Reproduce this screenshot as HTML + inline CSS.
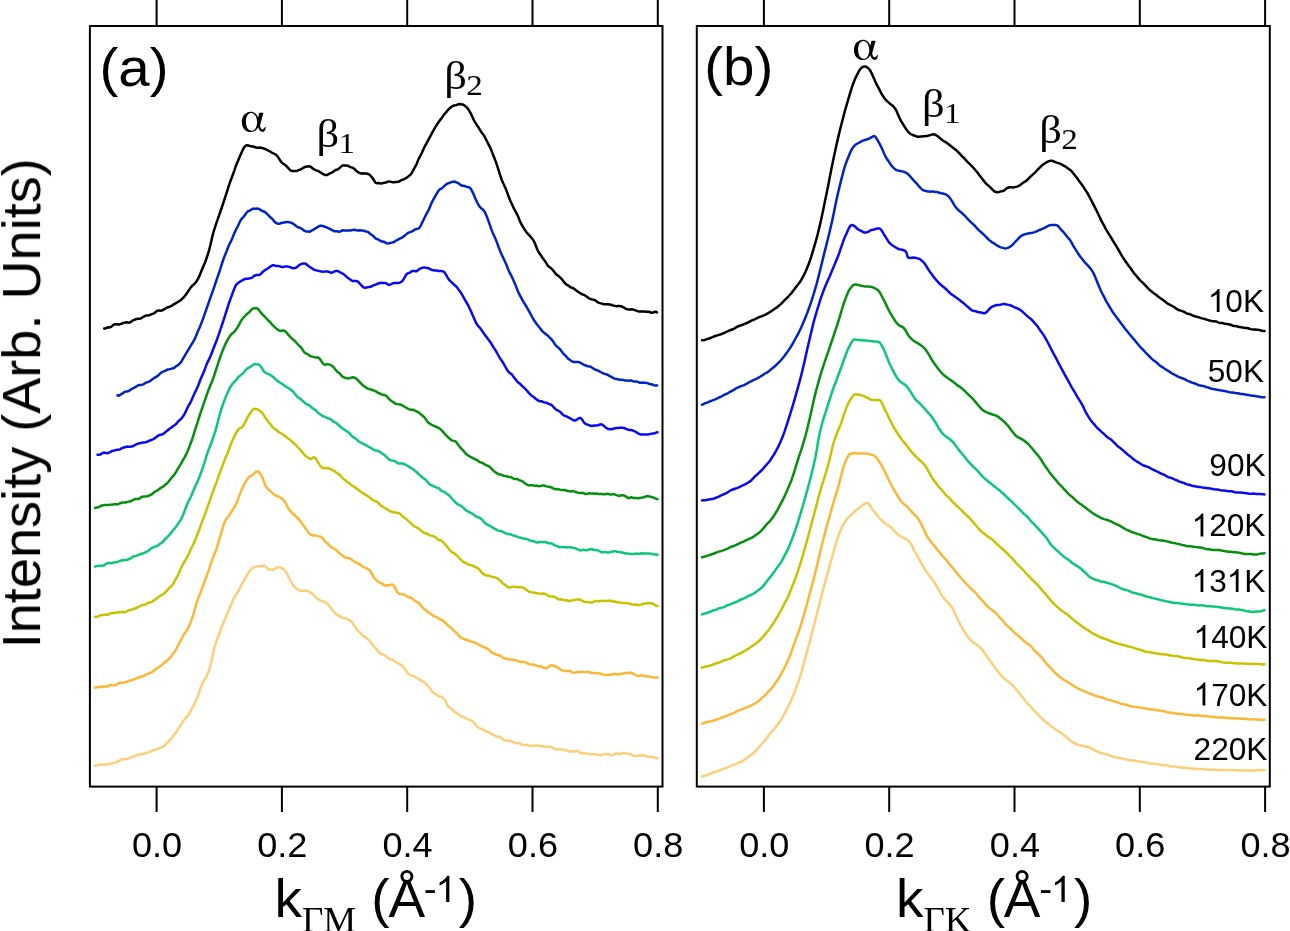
<!DOCTYPE html>
<html><head><meta charset="utf-8"><title>chart</title>
<style>
html,body{margin:0;padding:0;background:#fff;}
body{width:1290px;height:931px;overflow:hidden;}
svg{display:block;}
text{font-family:"Liberation Sans",sans-serif;fill:#000;}
.serif{font-family:"Liberation Serif",serif;}
.txt{opacity:0.999;}
</style></head><body>
<svg width="1290" height="931" viewBox="0 0 1290 931">
<rect x="0" y="0" width="1290" height="931" fill="#ffffff"/>
<g>
<polyline points="95.0,765.7 96.4,765.6 97.8,765.2 99.2,764.8 100.6,764.6 102.0,764.6 103.4,764.9 104.8,765.0 106.2,764.4 107.6,764.0 109.0,764.0 110.4,763.9 111.8,763.4 113.2,762.9 114.6,762.7 116.0,762.4 117.4,761.6 118.8,760.8 120.2,760.1 121.6,759.5 123.0,759.3 124.4,759.2 125.8,759.0 127.2,759.0 128.6,758.6 130.0,757.6 131.4,756.7 132.8,756.5 134.2,756.5 135.6,755.9 137.0,755.1 138.4,754.6 139.8,754.2 141.2,754.1 142.6,754.0 144.0,753.5 145.4,753.2 146.8,752.8 148.2,752.2 149.6,751.7 151.0,751.2 152.4,750.6 153.8,750.0 155.2,749.9 156.6,749.5 158.0,748.7 159.4,748.2 160.8,747.6 162.2,747.0 163.6,746.5 165.0,745.1 166.4,743.4 167.8,742.2 169.2,741.0 170.6,739.4 172.0,737.6 173.4,735.8 174.8,734.1 176.2,732.2 177.6,729.8 179.0,727.6 180.4,725.5 181.8,723.3 183.2,721.1 184.6,719.1 186.0,717.6 187.4,716.2 188.8,714.1 190.2,711.5 191.6,709.2 193.0,706.9 194.4,704.0 195.8,700.8 197.2,697.6 198.6,693.9 200.0,689.8 201.4,685.8 202.8,682.6 204.2,680.3 205.6,678.1 207.0,675.3 208.4,672.0 209.8,668.1 211.2,662.6 212.6,655.9 214.0,649.5 215.4,644.4 216.8,640.3 218.2,636.5 219.6,632.7 221.0,628.8 222.4,625.2 223.8,621.7 225.2,618.5 226.6,615.3 228.0,611.9 229.4,608.6 230.8,605.5 232.2,602.2 233.6,599.1 235.0,596.7 236.4,594.3 237.8,592.1 239.2,589.7 240.6,586.5 242.0,583.7 243.4,581.6 244.8,579.2 246.2,576.5 247.6,574.1 249.0,572.0 250.4,570.0 251.8,568.3 253.2,567.6 254.6,567.1 256.0,566.6 257.4,566.4 258.8,566.2 260.2,566.3 261.6,566.2 263.0,565.8 264.4,565.6 265.8,566.7 267.2,568.3 268.6,569.3 270.0,569.5 271.4,569.5 272.8,569.7 274.2,569.3 275.6,568.4 277.0,567.6 278.4,567.5 279.8,567.5 281.2,567.7 282.6,568.6 284.0,569.5 285.4,571.0 286.8,573.5 288.2,576.3 289.6,578.8 291.0,581.5 292.4,584.0 293.8,586.1 295.2,587.7 296.6,588.8 298.0,589.5 299.4,590.3 300.8,590.7 302.2,590.9 303.6,590.7 305.0,590.6 306.4,590.7 307.8,591.1 309.2,591.8 310.6,592.6 312.0,593.5 313.4,594.6 314.8,596.3 316.2,598.0 317.6,598.7 319.0,599.4 320.4,600.5 321.8,601.3 323.2,601.5 324.6,602.0 326.0,602.7 327.4,603.7 328.8,605.4 330.2,607.3 331.6,609.0 333.0,610.8 334.4,612.7 335.8,614.1 337.2,615.0 338.6,615.5 340.0,616.4 341.4,617.4 342.8,617.9 344.2,618.2 345.6,618.5 347.0,618.9 348.4,619.6 349.8,620.5 351.2,621.5 352.6,623.0 354.0,625.2 355.4,627.5 356.8,629.6 358.2,631.1 359.6,632.3 361.0,633.6 362.4,635.2 363.8,636.3 365.2,637.0 366.6,638.0 368.0,639.3 369.4,640.7 370.8,642.4 372.2,644.2 373.6,646.0 375.0,647.5 376.4,649.1 377.8,650.7 379.2,652.4 380.6,653.8 382.0,654.4 383.4,654.5 384.8,655.3 386.2,656.6 387.6,657.6 389.0,658.6 390.4,659.3 391.8,659.4 393.2,659.9 394.6,661.2 396.0,662.2 397.4,663.0 398.8,663.7 400.2,664.3 401.6,665.4 403.0,667.0 404.4,668.5 405.8,670.3 407.2,672.3 408.6,674.0 410.0,675.0 411.4,675.4 412.8,675.9 414.2,676.5 415.6,677.2 417.0,678.0 418.4,678.7 419.8,679.6 421.2,680.7 422.6,681.5 424.0,682.0 425.4,683.3 426.8,684.9 428.2,686.3 429.6,687.9 431.0,689.8 432.4,691.7 433.8,692.9 435.2,693.8 436.6,694.9 438.0,695.9 439.4,696.3 440.8,696.6 442.2,697.5 443.6,698.5 445.0,700.3 446.4,703.1 447.8,705.8 449.2,707.2 450.6,708.0 452.0,709.3 453.4,710.9 454.8,712.1 456.2,712.8 457.6,713.7 459.0,714.8 460.4,715.8 461.8,716.6 463.2,717.0 464.6,717.5 466.0,718.2 467.4,719.0 468.8,719.6 470.2,720.0 471.6,720.7 473.0,721.7 474.4,723.1 475.8,725.1 477.2,726.6 478.6,727.6 480.0,728.5 481.4,729.0 482.8,729.2 484.2,730.3 485.6,731.3 487.0,731.8 488.4,732.2 489.8,732.8 491.2,733.8 492.6,734.7 494.0,735.3 495.4,735.9 496.8,736.5 498.2,736.7 499.6,736.9 501.0,737.6 502.4,739.0 503.8,740.0 505.2,740.4 506.6,740.6 508.0,740.7 509.4,740.9 510.8,741.1 512.2,741.5 513.6,742.2 515.0,742.9 516.4,743.1 517.8,743.1 519.2,743.2 520.6,743.9 522.0,744.8 523.4,745.1 524.8,745.0 526.2,744.9 527.6,745.0 529.0,745.5 530.4,745.9 531.8,745.8 533.2,745.7 534.6,745.8 536.0,745.6 537.4,745.4 538.8,745.5 540.2,745.9 541.6,746.2 543.0,746.3 544.4,746.7 545.8,746.9 547.2,746.6 548.6,746.5 550.0,746.9 551.4,747.2 552.8,747.7 554.2,748.7 555.6,749.4 557.0,749.4 558.4,749.2 559.8,749.3 561.2,749.4 562.6,749.4 564.0,749.7 565.4,750.3 566.8,750.5 568.2,751.0 569.6,751.4 571.0,751.3 572.4,751.5 573.8,751.7 575.2,751.3 576.6,750.9 578.0,751.2 579.4,752.2 580.8,753.2 582.2,753.4 583.6,753.1 585.0,753.2 586.4,753.6 587.8,754.0 589.2,754.1 590.6,754.3 592.0,754.3 593.4,754.2 594.8,754.3 596.2,754.4 597.6,754.6 599.0,755.0 600.4,755.3 601.8,755.1 603.2,754.4 604.6,754.1 606.0,754.1 607.4,754.0 608.8,754.3 610.2,755.2 611.6,755.4 613.0,754.9 614.4,754.0 615.8,753.6 617.2,753.5 618.6,753.9 620.0,754.1 621.4,753.6 622.8,753.0 624.2,752.9 625.6,753.3 627.0,753.6 628.4,753.7 629.8,754.0 631.2,754.6 632.6,755.4 634.0,755.9 635.4,755.9 636.8,755.7 638.2,755.7 639.6,755.6 641.0,755.5 642.4,755.4 643.8,755.3 645.2,755.6 646.6,756.3 648.0,756.8 649.4,757.1 650.8,757.1 652.2,756.8 653.6,757.1 655.0,757.8 656.4,758.3 657.5,758.5" fill="none" stroke="#fccf7a" stroke-width="2.5" stroke-linejoin="round" stroke-linecap="round"/>
<polyline points="95.0,687.8 96.4,687.6 97.8,686.9 99.2,686.8 100.6,687.0 102.0,686.7 103.4,686.3 104.8,686.6 106.2,686.7 107.6,686.3 109.0,685.6 110.4,685.1 111.8,685.1 113.2,685.4 114.6,685.2 116.0,684.7 117.4,684.0 118.8,683.3 120.2,682.7 121.6,682.7 123.0,682.7 124.4,682.4 125.8,682.2 127.2,681.7 128.6,680.9 130.0,680.5 131.4,680.2 132.8,679.8 134.2,679.2 135.6,678.7 137.0,678.1 138.4,677.5 139.8,677.0 141.2,676.9 142.6,676.4 144.0,675.6 145.4,674.9 146.8,674.2 148.2,673.6 149.6,673.2 151.0,672.6 152.4,671.8 153.8,670.7 155.2,669.6 156.6,668.6 158.0,667.6 159.4,666.7 160.8,665.8 162.2,664.8 163.6,663.4 165.0,662.0 166.4,661.0 167.8,660.0 169.2,658.7 170.6,656.9 172.0,655.1 173.4,653.3 174.8,651.6 176.2,649.0 177.6,646.2 179.0,643.8 180.4,641.2 181.8,638.1 183.2,635.5 184.6,633.4 186.0,631.4 187.4,629.3 188.8,626.6 190.2,623.4 191.6,619.6 193.0,615.3 194.4,610.6 195.8,605.6 197.2,600.9 198.6,597.2 200.0,593.9 201.4,590.2 202.8,586.2 204.2,582.5 205.6,578.8 207.0,575.2 208.4,571.3 209.8,566.8 211.2,562.4 212.6,558.6 214.0,555.1 215.4,551.8 216.8,547.8 218.2,543.2 219.6,538.3 221.0,533.6 222.4,528.8 223.8,524.1 225.2,520.8 226.6,518.7 228.0,516.9 229.4,515.0 230.8,512.9 232.2,510.5 233.6,508.3 235.0,506.2 236.4,503.3 237.8,499.7 239.2,495.9 240.6,492.2 242.0,488.9 243.4,485.9 244.8,483.1 246.2,480.7 247.6,478.6 249.0,477.1 250.4,476.1 251.8,475.5 253.2,474.5 254.6,473.0 256.0,471.8 257.4,471.4 258.8,471.9 260.2,473.7 261.6,476.0 263.0,479.0 264.4,482.9 265.8,486.3 267.2,488.4 268.6,489.8 270.0,490.9 271.4,492.1 272.8,493.4 274.2,494.5 275.6,495.5 277.0,496.0 278.4,496.5 279.8,497.2 281.2,498.1 282.6,499.2 284.0,500.7 285.4,502.7 286.8,505.4 288.2,508.1 289.6,510.2 291.0,511.7 292.4,513.1 293.8,514.4 295.2,515.8 296.6,517.2 298.0,518.5 299.4,519.9 300.8,521.7 302.2,523.7 303.6,525.7 305.0,527.8 306.4,529.8 307.8,531.6 309.2,533.4 310.6,534.7 312.0,535.3 313.4,535.4 314.8,535.3 316.2,535.6 317.6,536.1 319.0,536.4 320.4,536.6 321.8,537.4 323.2,539.0 324.6,540.9 326.0,542.4 327.4,543.5 328.8,544.7 330.2,546.3 331.6,547.4 333.0,548.1 334.4,549.1 335.8,550.0 337.2,551.0 338.6,552.4 340.0,553.7 341.4,554.6 342.8,555.7 344.2,556.9 345.6,557.7 347.0,557.8 348.4,558.0 349.8,558.4 351.2,559.3 352.6,560.4 354.0,561.4 355.4,562.1 356.8,562.8 358.2,563.4 359.6,564.2 361.0,565.3 362.4,566.3 363.8,567.1 365.2,567.7 366.6,568.4 368.0,569.2 369.4,570.1 370.8,571.9 372.2,574.5 373.6,576.9 375.0,578.8 376.4,580.2 377.8,581.4 379.2,582.3 380.6,582.9 382.0,583.5 383.4,584.6 384.8,585.5 386.2,585.6 387.6,585.3 389.0,585.2 390.4,584.9 391.8,584.4 393.2,585.0 394.6,587.2 396.0,589.8 397.4,592.3 398.8,593.5 400.2,593.9 401.6,594.2 403.0,594.6 404.4,594.8 405.8,595.4 407.2,596.4 408.6,597.2 410.0,597.5 411.4,598.1 412.8,599.1 414.2,600.2 415.6,601.2 417.0,602.0 418.4,602.8 419.8,604.0 421.2,605.7 422.6,607.6 424.0,608.9 425.4,609.8 426.8,611.0 428.2,612.3 429.6,613.1 431.0,613.9 432.4,615.2 433.8,616.1 435.2,616.6 436.6,617.2 438.0,618.0 439.4,618.8 440.8,619.5 442.2,620.2 443.6,621.1 445.0,622.5 446.4,623.9 447.8,625.4 449.2,626.5 450.6,627.4 452.0,628.7 453.4,630.1 454.8,631.5 456.2,632.6 457.6,633.9 459.0,635.8 460.4,637.4 461.8,638.2 463.2,638.5 464.6,639.1 466.0,639.9 467.4,640.2 468.8,640.5 470.2,641.3 471.6,641.9 473.0,642.0 474.4,642.3 475.8,643.1 477.2,644.1 478.6,644.7 480.0,645.3 481.4,646.1 482.8,646.8 484.2,647.3 485.6,647.9 487.0,648.5 488.4,649.4 489.8,650.6 491.2,652.0 492.6,652.9 494.0,653.4 495.4,654.1 496.8,654.8 498.2,655.3 499.6,655.4 501.0,655.9 502.4,657.1 503.8,658.3 505.2,658.6 506.6,658.6 508.0,659.2 509.4,659.6 510.8,659.4 512.2,659.5 513.6,660.0 515.0,660.3 516.4,660.5 517.8,660.8 519.2,661.6 520.6,662.1 522.0,662.1 523.4,661.9 524.8,662.0 526.2,662.7 527.6,663.5 529.0,664.1 530.4,664.5 531.8,664.4 533.2,664.5 534.6,665.1 536.0,665.5 537.4,665.9 538.8,666.2 540.2,666.3 541.6,666.6 543.0,667.4 544.4,668.0 545.8,668.3 547.2,668.0 548.6,666.9 550.0,665.7 551.4,665.3 552.8,665.5 554.2,666.0 555.6,666.5 557.0,667.1 558.4,668.0 559.8,668.9 561.2,669.9 562.6,670.6 564.0,671.0 565.4,671.0 566.8,670.9 568.2,670.7 569.6,670.8 571.0,671.5 572.4,672.5 573.8,672.9 575.2,672.6 576.6,672.1 578.0,671.9 579.4,672.1 580.8,672.0 582.2,671.8 583.6,671.8 585.0,671.9 586.4,671.9 587.8,671.9 589.2,671.9 590.6,672.5 592.0,673.2 593.4,673.1 594.8,673.0 596.2,673.2 597.6,673.3 599.0,673.2 600.4,673.6 601.8,674.2 603.2,674.5 604.6,674.8 606.0,675.0 607.4,674.8 608.8,674.7 610.2,674.8 611.6,674.7 613.0,674.1 614.4,673.9 615.8,674.1 617.2,674.5 618.6,674.5 620.0,674.2 621.4,673.6 622.8,673.4 624.2,673.3 625.6,673.1 627.0,673.1 628.4,672.7 629.8,672.6 631.2,672.9 632.6,673.4 634.0,674.1 635.4,675.0 636.8,675.7 638.2,676.0 639.6,675.7 641.0,675.3 642.4,675.4 643.8,675.7 645.2,676.1 646.6,676.5 648.0,676.4 649.4,676.5 650.8,676.9 652.2,677.3 653.6,677.4 655.0,677.5 656.4,677.6 657.5,677.3" fill="none" stroke="#fcb736" stroke-width="2.5" stroke-linejoin="round" stroke-linecap="round"/>
<polyline points="95.0,616.7 96.4,617.0 97.8,616.5 99.2,615.9 100.6,615.3 102.0,615.1 103.4,615.0 104.8,614.8 106.2,614.6 107.6,614.7 109.0,614.2 110.4,613.3 111.8,612.9 113.2,612.9 114.6,612.9 116.0,612.7 117.4,612.5 118.8,612.3 120.2,612.2 121.6,611.9 123.0,611.9 124.4,612.3 125.8,612.0 127.2,611.0 128.6,610.3 130.0,610.0 131.4,609.8 132.8,609.2 134.2,608.7 135.6,608.3 137.0,607.6 138.4,607.0 139.8,606.3 141.2,605.5 142.6,605.0 144.0,604.9 145.4,604.6 146.8,603.7 148.2,602.8 149.6,602.4 151.0,602.2 152.4,601.5 153.8,600.4 155.2,599.4 156.6,598.5 158.0,597.4 159.4,596.2 160.8,595.5 162.2,595.0 163.6,594.0 165.0,592.6 166.4,591.1 167.8,589.6 169.2,588.0 170.6,586.8 172.0,585.6 173.4,583.5 174.8,580.8 176.2,578.2 177.6,575.8 179.0,573.0 180.4,569.6 181.8,566.3 183.2,563.8 184.6,561.5 186.0,559.1 187.4,556.6 188.8,553.7 190.2,550.6 191.6,547.5 193.0,544.9 194.4,542.1 195.8,538.6 197.2,534.8 198.6,531.3 200.0,527.6 201.4,523.6 202.8,519.9 204.2,516.4 205.6,512.6 207.0,508.6 208.4,504.6 209.8,500.7 211.2,496.7 212.6,492.7 214.0,488.7 215.4,485.1 216.8,481.4 218.2,477.3 219.6,473.5 221.0,469.8 222.4,465.8 223.8,462.0 225.2,458.4 226.6,455.2 228.0,452.1 229.4,448.3 230.8,444.3 232.2,441.0 233.6,437.9 235.0,435.0 236.4,432.4 237.8,430.0 239.2,428.5 240.6,427.8 242.0,427.1 243.4,425.5 244.8,422.9 246.2,420.1 247.6,417.4 249.0,415.0 250.4,413.0 251.8,410.8 253.2,409.2 254.6,408.8 256.0,408.9 257.4,409.3 258.8,410.2 260.2,411.2 261.6,412.3 263.0,413.9 264.4,416.2 265.8,418.4 267.2,420.3 268.6,422.1 270.0,423.8 271.4,425.5 272.8,427.4 274.2,428.6 275.6,429.3 277.0,430.5 278.4,431.9 279.8,432.8 281.2,433.4 282.6,434.3 284.0,435.4 285.4,436.3 286.8,437.4 288.2,438.4 289.6,439.4 291.0,440.6 292.4,442.0 293.8,443.2 295.2,444.4 296.6,445.9 298.0,447.5 299.4,449.0 300.8,450.4 302.2,452.1 303.6,453.8 305.0,455.4 306.4,456.5 307.8,457.5 309.2,458.5 310.6,459.0 312.0,458.4 313.4,457.2 314.8,457.4 316.2,459.3 317.6,461.7 319.0,463.9 320.4,465.9 321.8,467.5 323.2,468.1 324.6,468.3 326.0,468.2 327.4,468.0 328.8,468.3 330.2,468.9 331.6,469.6 333.0,470.3 334.4,471.1 335.8,472.2 337.2,473.2 338.6,474.1 340.0,475.2 341.4,476.7 342.8,478.3 344.2,479.6 345.6,480.6 347.0,481.7 348.4,482.6 349.8,483.7 351.2,484.9 352.6,486.0 354.0,486.7 355.4,487.6 356.8,488.6 358.2,489.7 359.6,490.7 361.0,491.9 362.4,492.9 363.8,493.6 365.2,494.4 366.6,495.4 368.0,496.3 369.4,497.3 370.8,498.5 372.2,499.5 373.6,500.4 375.0,501.0 376.4,501.5 377.8,502.5 379.2,503.9 380.6,505.3 382.0,506.4 383.4,507.2 384.8,508.0 386.2,508.9 387.6,509.7 389.0,510.7 390.4,511.3 391.8,511.7 393.2,512.3 394.6,512.6 396.0,512.5 397.4,512.7 398.8,513.2 400.2,513.9 401.6,515.3 403.0,516.8 404.4,517.8 405.8,518.8 407.2,519.8 408.6,521.1 410.0,522.3 411.4,523.6 412.8,525.1 414.2,526.3 415.6,527.0 417.0,527.6 418.4,528.5 419.8,529.6 421.2,530.8 422.6,531.8 424.0,532.8 425.4,533.4 426.8,533.6 428.2,534.3 429.6,535.2 431.0,535.6 432.4,535.9 433.8,536.3 435.2,537.0 436.6,538.4 438.0,539.7 439.4,540.2 440.8,540.3 442.2,541.2 443.6,542.8 445.0,544.4 446.4,545.7 447.8,547.4 449.2,549.4 450.6,551.0 452.0,552.0 453.4,552.8 454.8,553.8 456.2,554.9 457.6,556.2 459.0,557.8 460.4,559.1 461.8,560.6 463.2,561.9 464.6,562.5 466.0,563.0 467.4,564.0 468.8,564.7 470.2,564.9 471.6,565.2 473.0,565.8 474.4,566.6 475.8,567.4 477.2,567.7 478.6,568.7 480.0,570.4 481.4,572.1 482.8,573.5 484.2,574.6 485.6,575.3 487.0,575.6 488.4,575.6 489.8,575.9 491.2,576.5 492.6,577.0 494.0,577.3 495.4,577.5 496.8,578.1 498.2,579.1 499.6,580.0 501.0,581.3 502.4,583.1 503.8,584.2 505.2,584.8 506.6,586.0 508.0,587.3 509.4,587.5 510.8,587.2 512.2,586.9 513.6,586.7 515.0,586.8 516.4,587.0 517.8,587.2 519.2,587.1 520.6,587.0 522.0,587.3 523.4,587.9 524.8,588.6 526.2,589.7 527.6,590.8 529.0,591.6 530.4,592.1 531.8,592.4 533.2,592.6 534.6,592.7 536.0,593.0 537.4,593.2 538.8,593.4 540.2,593.7 541.6,593.8 543.0,593.6 544.4,593.8 545.8,594.3 547.2,595.0 548.6,595.8 550.0,596.5 551.4,596.5 552.8,596.4 554.2,596.7 555.6,597.4 557.0,598.4 558.4,599.3 559.8,599.4 561.2,599.2 562.6,599.6 564.0,600.2 565.4,600.3 566.8,600.3 568.2,600.7 569.6,601.1 571.0,600.8 572.4,600.3 573.8,600.1 575.2,599.9 576.6,599.5 578.0,599.4 579.4,599.6 580.8,600.0 582.2,600.6 583.6,601.5 585.0,602.1 586.4,602.0 587.8,602.0 589.2,602.3 590.6,602.6 592.0,602.5 593.4,601.9 594.8,601.3 596.2,600.9 597.6,601.0 599.0,601.3 600.4,601.1 601.8,600.7 603.2,600.7 604.6,601.0 606.0,601.0 607.4,600.9 608.8,600.7 610.2,600.6 611.6,601.1 613.0,601.6 614.4,601.5 615.8,601.8 617.2,602.3 618.6,602.4 620.0,602.5 621.4,602.8 622.8,603.0 624.2,603.0 625.6,602.9 627.0,603.1 628.4,603.4 629.8,603.8 631.2,604.3 632.6,604.6 634.0,604.7 635.4,604.6 636.8,604.8 638.2,605.0 639.6,604.9 641.0,604.6 642.4,604.0 643.8,603.7 645.2,603.5 646.6,603.2 648.0,603.2 649.4,603.3 650.8,603.3 652.2,603.4 653.6,604.0 655.0,605.1 656.4,606.1 657.5,606.0" fill="none" stroke="#c8c300" stroke-width="2.5" stroke-linejoin="round" stroke-linecap="round"/>
<polyline points="95.0,566.6 96.4,566.1 97.8,565.9 99.2,565.8 100.6,565.7 102.0,565.8 103.4,565.6 104.8,564.7 106.2,563.8 107.6,563.2 109.0,562.9 110.4,563.0 111.8,563.2 113.2,562.8 114.6,562.2 116.0,562.2 117.4,562.0 118.8,561.3 120.2,560.7 121.6,560.4 123.0,560.3 124.4,560.2 125.8,560.1 127.2,559.8 128.6,559.3 130.0,558.7 131.4,557.7 132.8,556.7 134.2,556.2 135.6,555.9 137.0,555.5 138.4,555.0 139.8,554.2 141.2,553.7 142.6,553.5 144.0,553.0 145.4,552.3 146.8,551.7 148.2,551.0 149.6,549.7 151.0,548.4 152.4,547.7 153.8,547.2 155.2,546.6 156.6,546.2 158.0,545.5 159.4,544.3 160.8,543.3 162.2,542.4 163.6,540.9 165.0,539.2 166.4,538.0 167.8,536.6 169.2,535.0 170.6,533.4 172.0,531.5 173.4,529.8 174.8,528.3 176.2,526.5 177.6,524.4 179.0,522.4 180.4,520.4 181.8,518.0 183.2,514.5 184.6,510.9 186.0,507.2 187.4,503.7 188.8,500.8 190.2,498.0 191.6,495.0 193.0,491.6 194.4,488.2 195.8,485.1 197.2,482.2 198.6,479.0 200.0,475.5 201.4,471.6 202.8,467.7 204.2,463.6 205.6,459.0 207.0,454.4 208.4,450.4 209.8,446.8 211.2,443.3 212.6,439.3 214.0,435.1 215.4,430.6 216.8,425.7 218.2,420.4 219.6,415.0 221.0,410.2 222.4,405.9 223.8,402.1 225.2,398.3 226.6,395.0 228.0,391.9 229.4,388.7 230.8,386.2 232.2,384.2 233.6,382.7 235.0,381.2 236.4,379.6 237.8,377.9 239.2,376.4 240.6,375.2 242.0,374.1 243.4,372.8 244.8,371.2 246.2,369.4 247.6,368.3 249.0,367.6 250.4,366.8 251.8,365.7 253.2,364.7 254.6,364.1 256.0,364.3 257.4,364.4 258.8,364.4 260.2,365.6 261.6,367.7 263.0,370.1 264.4,371.9 265.8,372.9 267.2,373.6 268.6,374.2 270.0,374.9 271.4,375.8 272.8,376.7 274.2,377.8 275.6,379.3 277.0,380.6 278.4,381.7 279.8,382.5 281.2,383.2 282.6,384.2 284.0,385.3 285.4,386.3 286.8,387.0 288.2,388.0 289.6,389.0 291.0,389.9 292.4,391.0 293.8,392.4 295.2,394.3 296.6,396.1 298.0,397.3 299.4,398.0 300.8,399.2 302.2,400.6 303.6,401.8 305.0,403.0 306.4,404.2 307.8,404.8 309.2,405.3 310.6,406.4 312.0,407.8 313.4,408.8 314.8,409.6 316.2,410.8 317.6,412.4 319.0,413.6 320.4,414.6 321.8,415.6 323.2,416.3 324.6,416.6 326.0,417.4 327.4,418.2 328.8,418.5 330.2,418.9 331.6,420.0 333.0,421.3 334.4,422.1 335.8,422.7 337.2,423.9 338.6,425.0 340.0,426.3 341.4,427.7 342.8,428.8 344.2,429.5 345.6,430.4 347.0,431.5 348.4,432.3 349.8,433.5 351.2,435.4 352.6,436.8 354.0,437.6 355.4,438.4 356.8,439.7 358.2,441.1 359.6,442.1 361.0,442.7 362.4,443.4 363.8,444.2 365.2,444.7 366.6,445.5 368.0,446.5 369.4,447.2 370.8,447.9 372.2,448.8 373.6,449.7 375.0,450.2 376.4,450.5 377.8,450.9 379.2,451.4 380.6,452.4 382.0,453.5 383.4,454.3 384.8,455.3 386.2,456.6 387.6,458.2 389.0,459.5 390.4,460.1 391.8,460.5 393.2,460.8 394.6,461.0 396.0,461.8 397.4,463.0 398.8,463.6 400.2,463.4 401.6,463.3 403.0,463.7 404.4,464.2 405.8,464.9 407.2,465.6 408.6,466.5 410.0,467.4 411.4,468.2 412.8,469.1 414.2,470.1 415.6,471.3 417.0,472.5 418.4,473.8 419.8,475.1 421.2,476.5 422.6,477.7 424.0,478.5 425.4,479.6 426.8,481.1 428.2,482.8 429.6,484.3 431.0,485.0 432.4,485.6 433.8,486.3 435.2,486.9 436.6,487.6 438.0,487.9 439.4,488.7 440.8,490.4 442.2,491.3 443.6,491.6 445.0,492.4 446.4,493.4 447.8,494.4 449.2,495.5 450.6,497.0 452.0,498.7 453.4,500.3 454.8,501.7 456.2,503.1 457.6,504.2 459.0,504.9 460.4,505.5 461.8,506.3 463.2,507.6 464.6,509.1 466.0,510.2 467.4,511.1 468.8,511.9 470.2,512.5 471.6,513.3 473.0,514.2 474.4,515.2 475.8,516.3 477.2,517.0 478.6,517.4 480.0,518.1 481.4,519.2 482.8,520.5 484.2,522.1 485.6,523.6 487.0,524.5 488.4,525.1 489.8,525.9 491.2,526.7 492.6,527.6 494.0,528.4 495.4,529.2 496.8,530.0 498.2,530.6 499.6,530.9 501.0,531.0 502.4,531.6 503.8,532.4 505.2,533.1 506.6,533.6 508.0,534.0 509.4,534.2 510.8,534.5 512.2,535.1 513.6,535.7 515.0,535.8 516.4,536.4 517.8,537.1 519.2,537.4 520.6,537.8 522.0,538.2 523.4,538.4 524.8,538.7 526.2,539.0 527.6,539.4 529.0,540.0 530.4,540.6 531.8,541.1 533.2,541.2 534.6,541.5 536.0,542.2 537.4,542.5 538.8,542.2 540.2,542.0 541.6,542.0 543.0,542.2 544.4,542.1 545.8,542.1 547.2,542.9 548.6,543.3 550.0,543.1 551.4,543.4 552.8,544.2 554.2,544.9 555.6,545.6 557.0,546.0 558.4,546.7 559.8,547.2 561.2,547.1 562.6,546.9 564.0,547.0 565.4,547.2 566.8,547.4 568.2,547.3 569.6,547.2 571.0,547.4 572.4,547.8 573.8,548.1 575.2,548.2 576.6,548.9 578.0,549.6 579.4,550.2 580.8,550.4 582.2,549.9 583.6,549.8 585.0,550.1 586.4,550.2 587.8,550.0 589.2,549.5 590.6,549.0 592.0,549.2 593.4,549.7 594.8,550.0 596.2,550.1 597.6,550.4 599.0,550.9 600.4,551.6 601.8,552.3 603.2,552.3 604.6,552.0 606.0,552.1 607.4,552.5 608.8,552.5 610.2,552.1 611.6,551.8 613.0,551.5 614.4,551.2 615.8,551.3 617.2,551.7 618.6,551.9 620.0,552.1 621.4,552.5 622.8,552.6 624.2,553.0 625.6,553.5 627.0,553.6 628.4,553.6 629.8,553.9 631.2,554.1 632.6,554.0 634.0,554.0 635.4,553.8 636.8,553.6 638.2,553.7 639.6,553.8 641.0,553.5 642.4,553.3 643.8,553.4 645.2,553.6 646.6,553.6 648.0,553.5 649.4,553.6 650.8,553.7 652.2,554.0 653.6,554.4 655.0,554.4 656.4,554.6 657.5,554.8" fill="none" stroke="#0ac878" stroke-width="2.5" stroke-linejoin="round" stroke-linecap="round"/>
<polyline points="95.0,507.9 96.4,507.5 97.8,507.4 99.2,506.9 100.6,506.0 102.0,505.5 103.4,505.3 104.8,505.1 106.2,504.9 107.6,504.9 109.0,504.9 110.4,504.7 111.8,504.6 113.2,504.4 114.6,504.2 116.0,504.3 117.4,504.4 118.8,503.9 120.2,503.2 121.6,502.8 123.0,502.6 124.4,502.6 125.8,502.5 127.2,501.9 128.6,501.6 130.0,501.5 131.4,500.9 132.8,500.2 134.2,499.4 135.6,499.0 137.0,499.1 138.4,499.1 139.8,498.3 141.2,497.3 142.6,496.8 144.0,496.6 145.4,496.4 146.8,496.3 148.2,496.0 149.6,495.4 151.0,494.6 152.4,493.8 153.8,492.6 155.2,491.5 156.6,490.8 158.0,490.0 159.4,488.9 160.8,487.8 162.2,487.2 163.6,486.2 165.0,485.0 166.4,483.8 167.8,482.5 169.2,480.9 170.6,478.9 172.0,477.2 173.4,475.7 174.8,473.9 176.2,471.6 177.6,469.1 179.0,466.8 180.4,464.6 181.8,462.3 183.2,459.7 184.6,457.3 186.0,454.7 187.4,451.6 188.8,448.3 190.2,444.5 191.6,440.7 193.0,436.9 194.4,432.2 195.8,427.7 197.2,423.3 198.6,418.9 200.0,414.5 201.4,410.4 202.8,406.3 204.2,402.3 205.6,398.3 207.0,394.1 208.4,390.2 209.8,386.7 211.2,383.4 212.6,380.0 214.0,376.0 215.4,371.6 216.8,367.3 218.2,363.2 219.6,359.0 221.0,354.9 222.4,351.3 223.8,347.7 225.2,344.4 226.6,341.7 228.0,339.2 229.4,336.8 230.8,334.9 232.2,333.5 233.6,332.4 235.0,331.0 236.4,329.1 237.8,326.9 239.2,324.3 240.6,321.6 242.0,319.3 243.4,317.7 244.8,316.3 246.2,314.7 247.6,313.6 249.0,312.6 250.4,310.9 251.8,309.3 253.2,308.5 254.6,308.2 256.0,308.1 257.4,308.5 258.8,309.7 260.2,311.7 261.6,313.6 263.0,315.0 264.4,316.2 265.8,317.8 267.2,319.4 268.6,320.8 270.0,322.0 271.4,323.7 272.8,325.4 274.2,326.6 275.6,327.9 277.0,329.1 278.4,330.0 279.8,330.8 281.2,331.1 282.6,330.5 284.0,330.5 285.4,331.5 286.8,332.9 288.2,334.6 289.6,336.2 291.0,337.7 292.4,339.1 293.8,340.1 295.2,341.4 296.6,343.0 298.0,344.5 299.4,346.0 300.8,347.2 302.2,349.0 303.6,351.4 305.0,352.9 306.4,353.6 307.8,354.2 309.2,355.4 310.6,356.3 312.0,356.6 313.4,356.9 314.8,357.4 316.2,357.4 317.6,357.3 319.0,358.1 320.4,359.8 321.8,361.8 323.2,363.7 324.6,364.7 326.0,364.5 327.4,364.1 328.8,364.4 330.2,364.8 331.6,365.5 333.0,366.7 334.4,368.2 335.8,370.0 337.2,371.7 338.6,372.6 340.0,373.7 341.4,375.5 342.8,376.8 344.2,377.5 345.6,377.9 347.0,378.2 348.4,378.4 349.8,378.2 351.2,377.6 352.6,377.2 354.0,377.5 355.4,378.1 356.8,379.2 358.2,380.7 359.6,382.0 361.0,383.4 362.4,385.0 363.8,386.1 365.2,386.9 366.6,387.9 368.0,388.7 369.4,389.1 370.8,389.5 372.2,390.0 373.6,390.5 375.0,390.9 376.4,391.7 377.8,392.7 379.2,393.2 380.6,393.9 382.0,394.6 383.4,394.9 384.8,395.1 386.2,395.9 387.6,397.2 389.0,398.9 390.4,400.3 391.8,401.2 393.2,402.1 394.6,403.2 396.0,403.7 397.4,404.1 398.8,404.4 400.2,404.5 401.6,405.0 403.0,405.8 404.4,406.7 405.8,407.5 407.2,408.2 408.6,409.1 410.0,409.6 411.4,409.7 412.8,409.8 414.2,410.3 415.6,411.0 417.0,411.5 418.4,412.3 419.8,413.4 421.2,414.6 422.6,415.8 424.0,417.0 425.4,418.6 426.8,420.7 428.2,422.4 429.6,423.5 431.0,424.3 432.4,425.2 433.8,425.9 435.2,426.4 436.6,427.0 438.0,427.6 439.4,428.4 440.8,429.6 442.2,430.9 443.6,432.4 445.0,434.2 446.4,435.7 447.8,437.0 449.2,438.2 450.6,439.5 452.0,440.6 453.4,440.9 454.8,441.1 456.2,442.1 457.6,443.9 459.0,446.0 460.4,447.6 461.8,449.1 463.2,450.5 464.6,452.2 466.0,453.8 467.4,455.0 468.8,455.8 470.2,456.7 471.6,457.5 473.0,458.1 474.4,458.9 475.8,459.5 477.2,460.2 478.6,461.4 480.0,462.3 481.4,462.6 482.8,463.1 484.2,464.1 485.6,464.8 487.0,465.5 488.4,466.1 489.8,466.9 491.2,468.3 492.6,469.8 494.0,471.2 495.4,472.2 496.8,473.1 498.2,474.0 499.6,474.5 501.0,474.8 502.4,475.3 503.8,475.7 505.2,475.9 506.6,476.2 508.0,476.7 509.4,476.9 510.8,477.2 512.2,477.8 513.6,478.7 515.0,479.0 516.4,478.9 517.8,479.3 519.2,480.1 520.6,480.6 522.0,481.1 523.4,482.1 524.8,483.2 526.2,484.2 527.6,485.0 529.0,485.4 530.4,485.2 531.8,485.2 533.2,485.4 534.6,485.8 536.0,485.8 537.4,485.8 538.8,486.2 540.2,486.1 541.6,485.7 543.0,485.4 544.4,485.6 545.8,486.1 547.2,486.5 548.6,486.7 550.0,487.0 551.4,487.4 552.8,488.1 554.2,488.9 555.6,489.2 557.0,489.0 558.4,489.2 559.8,489.6 561.2,489.9 562.6,489.9 564.0,490.0 565.4,490.3 566.8,490.8 568.2,491.1 569.6,491.2 571.0,491.4 572.4,491.3 573.8,491.3 575.2,491.9 576.6,492.3 578.0,492.6 579.4,493.1 580.8,493.1 582.2,492.7 583.6,493.1 585.0,493.9 586.4,494.1 587.8,493.6 589.2,493.3 590.6,493.5 592.0,493.6 593.4,493.6 594.8,493.7 596.2,493.6 597.6,493.8 599.0,494.1 600.4,494.1 601.8,494.1 603.2,494.3 604.6,494.3 606.0,494.0 607.4,493.8 608.8,494.0 610.2,494.5 611.6,494.4 613.0,494.1 614.4,494.3 615.8,494.9 617.2,495.4 618.6,495.8 620.0,495.7 621.4,495.3 622.8,495.2 624.2,495.5 625.6,496.3 627.0,497.4 628.4,498.2 629.8,497.8 631.2,497.3 632.6,497.7 634.0,498.1 635.4,498.0 636.8,498.0 638.2,498.2 639.6,498.1 641.0,497.7 642.4,497.4 643.8,497.2 645.2,496.8 646.6,496.3 648.0,496.2 649.4,496.5 650.8,496.9 652.2,497.1 653.6,497.7 655.0,498.4 656.4,498.8 657.5,499.2" fill="none" stroke="#058f0f" stroke-width="2.5" stroke-linejoin="round" stroke-linecap="round"/>
<polyline points="97.5,454.7 98.9,454.8 100.3,454.6 101.7,453.6 103.1,452.7 104.5,452.6 105.9,453.1 107.3,453.2 108.7,452.7 110.1,452.1 111.5,451.3 112.9,450.8 114.3,450.5 115.7,450.1 117.1,449.7 118.5,449.7 119.9,449.4 121.3,448.4 122.7,447.8 124.1,447.6 125.5,447.0 126.9,446.6 128.3,446.7 129.7,446.7 131.1,446.5 132.5,446.4 133.9,445.7 135.3,444.8 136.7,444.2 138.1,443.6 139.5,443.3 140.9,443.0 142.3,442.6 143.7,442.4 145.1,442.4 146.5,442.0 147.9,441.4 149.3,440.7 150.7,440.2 152.1,439.7 153.5,439.0 154.9,438.2 156.3,437.1 157.7,436.0 159.1,435.2 160.5,434.8 161.9,434.6 163.3,433.9 164.7,432.7 166.1,431.6 167.5,430.5 168.9,429.3 170.3,428.3 171.7,427.3 173.1,426.2 174.5,425.3 175.9,424.1 177.3,422.5 178.7,420.9 180.1,419.7 181.5,418.4 182.9,416.5 184.3,414.3 185.7,411.7 187.1,408.5 188.5,405.7 189.9,403.5 191.3,400.8 192.7,397.4 194.1,394.2 195.5,391.4 196.9,388.5 198.3,385.2 199.7,381.5 201.1,377.9 202.5,374.8 203.9,371.7 205.3,367.9 206.7,364.1 208.1,361.1 209.5,358.4 210.9,355.2 212.3,351.5 213.7,347.8 215.1,344.4 216.5,340.8 217.9,336.8 219.3,332.9 220.7,328.7 222.1,324.5 223.5,320.3 224.9,315.9 226.3,311.5 227.7,307.1 229.1,302.7 230.5,298.9 231.9,295.1 233.3,291.2 234.7,287.6 236.1,284.9 237.5,283.4 238.9,282.4 240.3,281.5 241.7,280.7 243.1,279.9 244.5,279.2 245.9,278.8 247.3,278.8 248.7,278.6 250.1,278.2 251.5,277.9 252.9,276.9 254.3,275.7 255.7,275.2 257.1,275.0 258.5,275.1 259.9,274.7 261.3,273.4 262.7,271.9 264.1,270.8 265.5,269.8 266.9,269.0 268.3,268.1 269.7,267.0 271.1,266.1 272.5,265.3 273.9,265.2 275.3,265.7 276.7,265.9 278.1,265.9 279.5,266.2 280.9,266.7 282.3,267.0 283.7,266.9 285.1,266.4 286.5,266.4 287.9,266.6 289.3,266.9 290.7,267.4 292.1,268.0 293.5,268.2 294.9,268.0 296.3,267.5 297.7,266.4 299.1,265.1 300.5,264.4 301.9,263.8 303.3,263.4 304.7,263.4 306.1,264.0 307.5,265.2 308.9,266.4 310.3,267.3 311.7,268.1 313.1,269.2 314.5,269.9 315.9,270.3 317.3,270.6 318.7,270.9 320.1,271.2 321.5,271.5 322.9,271.7 324.3,271.6 325.7,271.4 327.1,271.4 328.5,271.7 329.9,272.3 331.3,272.7 332.7,272.4 334.1,271.7 335.5,271.1 336.9,270.9 338.3,271.2 339.7,272.1 341.1,272.8 342.5,273.5 343.9,274.4 345.3,275.6 346.7,276.9 348.1,277.9 349.5,278.9 350.9,280.1 352.3,280.9 353.7,281.0 355.1,280.9 356.5,281.0 357.9,281.6 359.3,283.0 360.7,284.7 362.1,286.0 363.5,287.4 364.9,287.9 366.3,287.5 367.7,287.2 369.1,286.9 370.5,286.7 371.9,286.3 373.3,285.4 374.7,284.9 376.1,284.5 377.5,283.7 378.9,283.2 380.3,283.0 381.7,282.8 383.1,282.9 384.5,282.9 385.9,283.0 387.3,284.1 388.7,284.8 390.1,284.7 391.5,284.0 392.9,283.3 394.3,283.1 395.7,283.0 397.1,283.0 398.5,283.0 399.9,282.6 401.3,281.9 402.7,280.6 404.1,278.4 405.5,275.9 406.9,273.8 408.3,273.1 409.7,272.7 411.1,271.7 412.5,270.9 413.9,270.9 415.3,271.3 416.7,271.2 418.1,270.1 419.5,268.9 420.9,268.3 422.3,267.9 423.7,267.5 425.1,267.6 426.5,267.9 427.9,268.0 429.3,268.6 430.7,269.4 432.1,270.0 433.5,270.2 434.9,270.5 436.3,270.6 437.7,270.7 439.1,271.0 440.5,271.1 441.9,271.1 443.3,271.5 444.7,272.6 446.1,274.8 447.5,277.4 448.9,279.6 450.3,281.1 451.7,282.3 453.1,283.7 454.5,285.0 455.9,286.2 457.3,287.7 458.7,289.7 460.1,291.6 461.5,293.7 462.9,296.1 464.3,298.6 465.7,301.1 467.1,303.5 468.5,306.0 469.9,309.0 471.3,312.0 472.7,315.2 474.1,318.4 475.5,321.6 476.9,324.3 478.3,326.2 479.7,327.6 481.1,329.4 482.5,331.5 483.9,333.5 485.3,335.4 486.7,337.3 488.1,339.3 489.5,341.0 490.9,342.9 492.3,345.3 493.7,347.6 495.1,349.7 496.5,352.0 497.9,354.5 499.3,357.1 500.7,359.2 502.1,361.2 503.5,363.5 504.9,366.0 506.3,368.5 507.7,370.8 509.1,372.5 510.5,373.5 511.9,374.6 513.3,376.4 514.7,378.2 516.1,380.1 517.5,381.9 518.9,383.0 520.3,384.1 521.7,385.5 523.1,386.8 524.5,388.2 525.9,389.5 527.3,391.1 528.7,392.8 530.1,394.2 531.5,395.4 532.9,396.4 534.3,397.5 535.7,398.7 537.1,399.9 538.5,400.8 539.9,401.2 541.3,401.3 542.7,401.8 544.1,402.4 545.5,402.6 546.9,402.9 548.3,403.7 549.7,404.2 551.1,404.7 552.5,405.9 553.9,407.5 555.3,408.9 556.7,409.9 558.1,410.7 559.5,411.4 560.9,412.5 562.3,414.1 563.7,415.3 565.1,416.0 566.5,416.4 567.9,417.1 569.3,417.9 570.7,418.7 572.1,419.5 573.5,420.3 574.9,420.6 576.3,420.0 577.7,419.0 579.1,418.1 580.5,417.9 581.9,419.3 583.3,421.4 584.7,423.2 586.1,424.1 587.5,424.6 588.9,425.1 590.3,425.8 591.7,426.0 593.1,425.7 594.5,425.5 595.9,425.5 597.3,425.4 598.7,425.0 600.1,424.4 601.5,424.3 602.9,425.1 604.3,426.3 605.7,427.4 607.1,428.4 608.5,429.1 609.9,429.3 611.3,429.3 612.7,429.0 614.1,428.5 615.5,428.1 616.9,427.9 618.3,427.9 619.7,427.8 621.1,427.7 622.5,427.7 623.9,427.9 625.3,428.5 626.7,429.1 628.1,429.7 629.5,430.0 630.9,430.0 632.3,430.3 633.7,430.9 635.1,431.5 636.5,432.3 637.9,433.3 639.3,434.0 640.7,434.4 642.1,434.6 643.5,434.6 644.9,434.5 646.3,434.6 647.7,434.6 649.1,434.3 650.5,433.9 651.9,433.6 653.3,433.6 654.7,433.3 656.1,432.6 657.5,432.2" fill="none" stroke="#0a0af0" stroke-width="2.5" stroke-linejoin="round" stroke-linecap="round"/>
<polyline points="117.5,395.3 118.9,395.7 120.3,394.8 121.7,393.9 123.1,392.9 124.5,391.9 125.9,391.6 127.3,391.4 128.7,391.0 130.1,390.1 131.5,389.1 132.9,388.4 134.3,387.7 135.7,386.9 137.1,386.0 138.5,385.2 139.9,384.9 141.3,384.9 142.7,384.6 144.1,383.8 145.5,382.9 146.9,382.4 148.3,381.9 149.7,381.3 151.1,380.3 152.5,379.1 153.9,378.2 155.3,377.4 156.7,376.6 158.1,375.5 159.5,374.1 160.9,372.8 162.3,372.0 163.7,371.3 165.1,370.9 166.5,370.2 167.9,369.4 169.3,369.2 170.7,368.9 172.1,368.5 173.5,368.2 174.9,367.4 176.3,366.1 177.7,365.2 179.1,364.2 180.5,362.7 181.9,360.7 183.3,358.2 184.7,355.8 186.1,353.4 187.5,351.2 188.9,348.9 190.3,346.4 191.7,344.1 193.1,342.0 194.5,339.4 195.9,336.2 197.3,332.8 198.7,329.6 200.1,326.4 201.5,322.8 202.9,319.1 204.3,315.2 205.7,311.1 207.1,307.0 208.5,303.1 209.9,299.1 211.3,295.2 212.7,291.3 214.1,287.3 215.5,283.0 216.9,278.9 218.3,274.9 219.7,270.8 221.1,266.4 222.5,262.0 223.9,257.9 225.3,254.4 226.7,251.0 228.1,247.3 229.5,244.0 230.9,241.3 232.3,238.3 233.7,234.8 235.1,231.5 236.5,228.6 237.9,226.0 239.3,222.9 240.7,220.2 242.1,218.3 243.5,216.8 244.9,215.1 246.3,213.0 247.7,211.5 249.1,210.9 250.5,210.2 251.9,209.2 253.3,208.5 254.7,208.7 256.1,208.7 257.5,208.5 258.9,208.9 260.3,209.8 261.7,210.7 263.1,211.2 264.5,211.7 265.9,212.8 267.3,214.2 268.7,215.6 270.1,217.1 271.5,218.2 272.9,219.6 274.3,221.5 275.7,222.7 277.1,223.5 278.5,223.9 279.9,223.5 281.3,223.0 282.7,222.7 284.1,222.5 285.5,222.3 286.9,222.1 288.3,222.0 289.7,222.4 291.1,222.8 292.5,223.3 293.9,224.2 295.3,225.3 296.7,226.5 298.1,227.3 299.5,227.7 300.9,228.3 302.3,229.3 303.7,230.3 305.1,231.1 306.5,231.5 307.9,231.6 309.3,231.7 310.7,231.2 312.1,230.3 313.5,229.6 314.9,228.7 316.3,227.9 317.7,227.0 319.1,226.2 320.5,225.7 321.9,225.7 323.3,226.3 324.7,226.7 326.1,227.1 327.5,227.8 328.9,228.5 330.3,229.1 331.7,229.8 333.1,230.6 334.5,231.3 335.9,231.3 337.3,231.3 338.7,231.7 340.1,231.6 341.5,230.8 342.9,230.3 344.3,230.4 345.7,230.6 347.1,230.5 348.5,230.6 349.9,230.5 351.3,230.3 352.7,230.1 354.1,229.8 355.5,230.0 356.9,230.4 358.3,230.4 359.7,230.2 361.1,230.4 362.5,230.6 363.9,230.8 365.3,231.2 366.7,231.6 368.1,232.0 369.5,233.2 370.9,234.5 372.3,235.2 373.7,236.5 375.1,237.9 376.5,238.9 377.9,239.4 379.3,240.2 380.7,241.0 382.1,241.6 383.5,241.8 384.9,242.2 386.3,243.1 387.7,243.5 389.1,243.3 390.5,242.9 391.9,242.6 393.3,242.3 394.7,241.6 396.1,240.6 397.5,239.9 398.9,239.1 400.3,238.4 401.7,237.8 403.1,236.9 404.5,235.8 405.9,234.6 407.3,233.4 408.7,232.6 410.1,232.1 411.5,231.6 412.9,230.9 414.3,229.8 415.7,229.1 417.1,228.9 418.5,228.6 419.9,227.2 421.3,224.5 422.7,221.5 424.1,218.7 425.5,215.8 426.9,213.2 428.3,210.7 429.7,207.4 431.1,204.0 432.5,201.1 433.9,198.5 435.3,196.1 436.7,193.7 438.1,191.3 439.5,189.6 440.9,188.9 442.3,187.9 443.7,186.6 445.1,185.3 446.5,184.2 447.9,183.4 449.3,183.0 450.7,182.4 452.1,181.9 453.5,181.6 454.9,181.8 456.3,182.3 457.7,182.9 459.1,183.7 460.5,184.9 461.9,185.8 463.3,185.8 464.7,186.0 466.1,186.6 467.5,187.1 468.9,187.3 470.3,188.1 471.7,190.3 473.1,193.1 474.5,196.4 475.9,199.7 477.3,202.6 478.7,205.1 480.1,207.2 481.5,208.5 482.9,209.6 484.3,211.2 485.7,213.9 487.1,217.3 488.5,221.1 489.9,225.1 491.3,229.1 492.7,232.7 494.1,235.8 495.5,238.9 496.9,242.4 498.3,246.2 499.7,249.9 501.1,253.3 502.5,256.4 503.9,259.3 505.3,262.2 506.7,265.5 508.1,269.2 509.5,272.3 510.9,274.9 512.3,277.8 513.7,280.9 515.1,284.1 516.5,287.6 517.9,291.2 519.3,294.2 520.7,296.9 522.1,299.5 523.5,301.8 524.9,304.2 526.3,306.5 527.7,308.8 529.1,311.3 530.5,313.8 531.9,316.5 533.3,319.0 534.7,321.3 536.1,323.2 537.5,325.1 538.9,326.7 540.3,328.5 541.7,330.5 543.1,331.9 544.5,333.0 545.9,334.2 547.3,335.2 548.7,336.5 550.1,338.0 551.5,339.4 552.9,341.1 554.3,343.4 555.7,345.3 557.1,346.6 558.5,347.8 559.9,349.1 561.3,350.9 562.7,352.8 564.1,354.3 565.5,355.6 566.9,357.3 568.3,358.9 569.7,359.8 571.1,360.7 572.5,361.6 573.9,362.1 575.3,362.1 576.7,362.0 578.1,362.0 579.5,362.4 580.9,363.0 582.3,363.8 583.7,364.6 585.1,365.3 586.5,365.8 587.9,366.2 589.3,366.4 590.7,366.8 592.1,367.7 593.5,368.6 594.9,369.4 596.3,370.0 597.7,370.4 599.1,371.1 600.5,372.0 601.9,372.7 603.3,373.3 604.7,373.9 606.1,374.2 607.5,374.7 608.9,375.6 610.3,376.5 611.7,377.0 613.1,377.8 614.5,378.6 615.9,378.9 617.3,379.1 618.7,379.6 620.1,379.8 621.5,379.7 622.9,379.9 624.3,380.2 625.7,380.4 627.1,380.6 628.5,380.7 629.9,380.4 631.3,380.5 632.7,381.1 634.1,381.5 635.5,381.6 636.9,381.6 638.3,382.1 639.7,382.7 641.1,382.8 642.5,382.6 643.9,382.7 645.3,382.8 646.7,382.9 648.1,383.4 649.5,384.1 650.9,384.2 652.3,384.5 653.7,385.1 655.1,385.6 656.5,385.6 657.0,385.3" fill="none" stroke="#0023c8" stroke-width="2.5" stroke-linejoin="round" stroke-linecap="round"/>
<polyline points="104.2,328.6 105.6,328.4 107.0,327.7 108.4,327.3 109.8,327.4 111.2,326.9 112.6,325.6 114.0,324.5 115.4,324.2 116.8,324.3 118.2,324.5 119.6,324.4 121.0,323.9 122.4,323.3 123.8,322.9 125.2,322.5 126.6,322.3 128.0,322.5 129.4,322.7 130.8,322.0 132.2,320.8 133.6,320.1 135.0,319.5 136.4,319.0 137.8,318.7 139.2,318.7 140.6,318.5 142.0,317.7 143.4,316.8 144.8,316.0 146.2,315.6 147.6,315.4 149.0,315.2 150.4,314.7 151.8,314.1 153.2,313.6 154.6,312.9 156.0,311.8 157.4,310.7 158.8,310.4 160.2,310.7 161.6,310.6 163.0,310.0 164.4,309.1 165.8,308.2 167.2,307.5 168.6,307.0 170.0,306.6 171.4,305.9 172.8,304.9 174.2,304.1 175.6,303.4 177.0,302.5 178.4,301.6 179.8,300.9 181.2,299.7 182.6,298.3 184.0,297.0 185.4,295.3 186.8,293.3 188.2,291.2 189.6,289.1 191.0,287.1 192.4,285.6 193.8,284.5 195.2,283.0 196.6,281.2 198.0,278.9 199.4,275.9 200.8,272.5 202.2,269.0 203.6,265.8 205.0,262.5 206.4,258.7 207.8,254.4 209.2,249.8 210.6,244.2 212.0,237.9 213.4,232.5 214.8,227.9 216.2,223.7 217.6,219.7 219.0,215.7 220.4,211.5 221.8,207.5 223.2,203.3 224.6,198.8 226.0,194.7 227.4,190.5 228.8,185.8 230.2,181.7 231.6,178.0 233.0,174.2 234.4,170.3 235.8,166.1 237.2,162.7 238.6,159.5 240.0,156.1 241.4,152.9 242.8,149.8 244.2,147.2 245.6,145.6 247.0,145.2 248.4,145.5 249.8,146.0 251.2,146.2 252.6,146.5 254.0,146.8 255.4,147.2 256.8,147.7 258.2,147.7 259.6,147.5 261.0,147.7 262.4,148.1 263.8,148.5 265.2,149.1 266.6,149.7 268.0,150.5 269.4,151.2 270.8,152.0 272.2,152.8 273.6,153.5 275.0,154.2 276.4,155.1 277.8,156.7 279.2,158.9 280.6,161.1 282.0,162.8 283.4,163.9 284.8,164.7 286.2,165.9 287.6,167.4 289.0,168.9 290.4,170.3 291.8,170.9 293.2,170.9 294.6,171.0 296.0,171.1 297.4,170.7 298.8,170.0 300.2,169.6 301.6,168.9 303.0,168.0 304.4,167.2 305.8,166.7 307.2,166.6 308.6,166.3 310.0,166.4 311.4,167.3 312.8,168.5 314.2,169.4 315.6,170.1 317.0,170.6 318.4,171.2 319.8,172.0 321.2,172.9 322.6,173.8 324.0,174.5 325.4,175.1 326.8,175.0 328.2,174.4 329.6,173.6 331.0,172.9 332.4,172.3 333.8,171.3 335.2,170.3 336.6,169.8 338.0,169.1 339.4,168.2 340.8,166.9 342.2,165.6 343.6,165.3 345.0,165.6 346.4,165.6 347.8,165.7 349.2,166.5 350.6,167.1 352.0,167.5 353.4,168.1 354.8,169.3 356.2,170.8 357.6,171.9 359.0,172.7 360.4,173.4 361.8,173.5 363.2,173.3 364.6,173.4 366.0,173.6 367.4,173.8 368.8,174.3 370.2,175.3 371.6,176.8 373.0,178.7 374.4,181.0 375.8,182.9 377.2,183.3 378.6,183.0 380.0,183.3 381.4,183.5 382.8,183.1 384.2,182.7 385.6,182.5 387.0,182.0 388.4,181.6 389.8,181.6 391.2,181.9 392.6,182.2 394.0,182.2 395.4,182.0 396.8,181.9 398.2,181.7 399.6,181.2 401.0,180.3 402.4,179.7 403.8,179.4 405.2,178.5 406.6,177.7 408.0,176.7 409.4,175.6 410.8,174.4 412.2,172.3 413.6,169.5 415.0,167.2 416.4,164.5 417.8,161.0 419.2,157.8 420.6,155.3 422.0,152.5 423.4,149.3 424.8,146.4 426.2,143.8 427.6,141.3 429.0,138.7 430.4,136.1 431.8,133.4 433.2,130.9 434.6,128.4 436.0,126.1 437.4,123.9 438.8,121.8 440.2,119.9 441.6,118.2 443.0,116.1 444.4,114.1 445.8,112.6 447.2,110.9 448.6,109.3 450.0,107.9 451.4,106.8 452.8,106.0 454.2,105.4 455.6,105.3 457.0,104.9 458.4,104.2 459.8,104.1 461.2,104.3 462.6,104.4 464.0,105.1 465.4,106.3 466.8,107.4 468.2,109.1 469.6,111.3 471.0,113.9 472.4,116.9 473.8,120.0 475.2,122.5 476.6,124.6 478.0,126.6 479.4,128.9 480.8,131.3 482.2,133.2 483.6,135.0 485.0,137.4 486.4,140.2 487.8,142.9 489.2,145.6 490.6,148.5 492.0,151.9 493.4,155.5 494.8,159.1 496.2,162.9 497.6,167.1 499.0,171.5 500.4,176.0 501.8,180.0 503.2,183.3 504.6,186.2 506.0,189.3 507.4,193.1 508.8,197.1 510.2,200.5 511.6,203.5 513.0,206.6 514.4,209.4 515.8,211.9 517.2,214.6 518.6,217.8 520.0,221.2 521.4,224.2 522.8,226.7 524.2,228.9 525.6,231.1 527.0,232.9 528.4,234.4 529.8,235.9 531.2,237.5 532.6,239.2 534.0,241.4 535.4,244.5 536.8,248.2 538.2,251.3 539.6,253.5 541.0,255.5 542.4,257.6 543.8,259.6 545.2,261.4 546.6,263.6 548.0,265.8 549.4,267.1 550.8,268.1 552.2,269.3 553.6,271.0 555.0,272.9 556.4,274.4 557.8,275.5 559.2,276.6 560.6,277.8 562.0,279.3 563.4,281.2 564.8,283.0 566.2,284.3 567.6,285.1 569.0,286.0 570.4,287.2 571.8,287.8 573.2,288.2 574.6,289.1 576.0,290.3 577.4,291.3 578.8,292.2 580.2,293.2 581.6,294.0 583.0,294.6 584.4,295.2 585.8,296.0 587.2,297.1 588.6,298.1 590.0,298.8 591.4,299.3 592.8,299.6 594.2,299.9 595.6,300.6 597.0,301.7 598.4,302.6 599.8,303.1 601.2,303.4 602.6,303.9 604.0,304.3 605.4,304.3 606.8,304.2 608.2,304.3 609.6,304.5 611.0,304.7 612.4,305.2 613.8,305.6 615.2,305.9 616.6,306.2 618.0,306.1 619.4,306.0 620.8,306.2 622.2,306.7 623.6,307.4 625.0,308.3 626.4,309.0 627.8,309.4 629.2,309.5 630.6,309.4 632.0,309.3 633.4,309.6 634.8,310.1 636.2,310.6 637.6,311.1 639.0,311.5 640.4,311.6 641.8,311.5 643.2,311.4 644.6,311.5 646.0,311.8 647.4,311.8 648.8,311.8 650.2,312.3 651.6,312.8 653.0,312.5 654.4,312.0 655.8,311.7 657.0,312.4" fill="none" stroke="#000000" stroke-width="2.5" stroke-linejoin="round" stroke-linecap="round"/>
<polyline points="702.0,776.4 703.4,776.1 704.8,775.7 706.2,775.4 707.6,774.9 709.0,774.1 710.4,773.6 711.8,773.1 713.2,772.5 714.6,772.0 716.0,771.5 717.4,771.1 718.8,770.6 720.2,770.0 721.6,769.6 723.0,769.1 724.4,768.5 725.8,768.1 727.2,767.7 728.6,767.0 730.0,766.3 731.4,765.7 732.8,765.1 734.2,764.6 735.6,764.1 737.0,763.4 738.4,762.7 739.8,762.2 741.2,761.7 742.6,760.9 744.0,760.0 745.4,759.1 746.8,758.0 748.2,756.8 749.6,755.8 751.0,754.9 752.4,754.0 753.8,752.8 755.2,751.3 756.6,749.8 758.0,748.3 759.4,746.8 760.8,745.2 762.2,743.4 763.6,741.9 765.0,740.2 766.4,738.4 767.8,736.5 769.2,734.6 770.6,732.8 772.0,731.4 773.4,730.0 774.8,728.4 776.2,726.6 777.6,724.8 779.0,722.8 780.4,720.8 781.8,718.5 783.2,716.1 784.6,713.6 786.0,710.9 787.4,708.0 788.8,705.2 790.2,702.4 791.6,699.3 793.0,696.0 794.4,692.5 795.8,688.9 797.2,684.9 798.6,680.9 800.0,676.9 801.4,672.3 802.8,667.2 804.2,661.9 805.6,656.8 807.0,651.7 808.4,646.6 809.8,641.4 811.2,635.9 812.6,630.4 814.0,625.0 815.4,619.6 816.8,614.2 818.2,608.8 819.6,603.1 821.0,597.6 822.4,592.2 823.8,587.0 825.2,582.0 826.6,577.0 828.0,571.9 829.4,566.6 830.8,561.4 832.2,556.5 833.6,551.6 835.0,546.8 836.4,542.1 837.8,537.6 839.2,533.7 840.6,530.2 842.0,527.1 843.4,524.4 844.8,522.1 846.2,520.0 847.6,518.2 849.0,516.8 850.4,515.5 851.8,514.1 853.2,512.7 854.6,511.5 856.0,510.3 857.4,509.2 858.8,508.2 860.2,507.1 861.6,505.9 863.0,504.8 864.4,503.9 865.8,503.1 867.2,502.9 868.6,503.7 870.0,505.6 871.4,507.7 872.8,509.9 874.2,511.7 875.6,513.4 877.0,515.2 878.4,516.9 879.8,518.5 881.2,520.0 882.6,521.3 884.0,522.4 885.4,523.5 886.8,524.5 888.2,525.5 889.6,526.5 891.0,527.5 892.4,528.9 893.8,530.3 895.2,531.7 896.6,533.2 898.0,534.5 899.4,535.5 900.8,536.4 902.2,537.1 903.6,537.8 905.0,538.6 906.4,539.3 907.8,540.3 909.2,541.6 910.6,543.4 912.0,545.7 913.4,548.6 914.8,551.3 916.2,553.7 917.6,556.2 919.0,558.9 920.4,561.5 921.8,564.1 923.2,566.7 924.6,569.0 926.0,571.2 927.4,573.2 928.8,575.1 930.2,576.8 931.6,578.5 933.0,580.4 934.4,582.5 935.8,584.9 937.2,587.3 938.6,589.7 940.0,592.2 941.4,594.7 942.8,596.9 944.2,598.6 945.6,600.1 947.0,601.6 948.4,603.1 949.8,604.7 951.2,606.4 952.6,608.6 954.0,611.3 955.4,614.3 956.8,617.5 958.2,620.5 959.6,623.4 961.0,626.0 962.4,628.4 963.8,630.8 965.2,632.9 966.6,635.0 968.0,637.0 969.4,638.8 970.8,640.4 972.2,641.7 973.6,642.8 975.0,643.6 976.4,644.6 977.8,645.7 979.2,646.8 980.6,647.9 982.0,649.3 983.4,651.1 984.8,653.3 986.2,655.3 987.6,657.3 989.0,659.3 990.4,661.2 991.8,663.2 993.2,665.3 994.6,667.2 996.0,669.1 997.4,670.8 998.8,672.5 1000.2,674.2 1001.6,676.0 1003.0,677.5 1004.4,678.7 1005.8,679.7 1007.2,680.7 1008.6,681.9 1010.0,683.1 1011.4,684.2 1012.8,685.5 1014.2,687.1 1015.6,688.9 1017.0,690.6 1018.4,692.1 1019.8,694.0 1021.2,695.8 1022.6,697.4 1024.0,699.1 1025.4,701.0 1026.8,702.6 1028.2,704.0 1029.6,705.5 1031.0,707.3 1032.4,709.0 1033.8,710.2 1035.2,711.6 1036.6,713.2 1038.0,714.7 1039.4,716.1 1040.8,717.4 1042.2,718.6 1043.6,720.0 1045.0,721.4 1046.4,722.5 1047.8,723.4 1049.2,724.6 1050.6,725.9 1052.0,726.9 1053.4,727.7 1054.8,728.7 1056.2,729.8 1057.6,730.7 1059.0,731.6 1060.4,732.5 1061.8,733.6 1063.2,734.6 1064.6,735.6 1066.0,736.8 1067.4,738.1 1068.8,739.4 1070.2,740.5 1071.6,741.4 1073.0,742.4 1074.4,743.2 1075.8,743.9 1077.2,744.5 1078.6,745.1 1080.0,745.4 1081.4,745.6 1082.8,745.9 1084.2,746.3 1085.6,746.7 1087.0,746.8 1088.4,747.0 1089.8,747.5 1091.2,748.4 1092.6,749.3 1094.0,749.9 1095.4,750.5 1096.8,751.2 1098.2,751.9 1099.6,752.5 1101.0,753.0 1102.4,753.3 1103.8,753.6 1105.2,753.9 1106.6,754.3 1108.0,754.8 1109.4,755.4 1110.8,756.0 1112.2,756.4 1113.6,756.7 1115.0,756.9 1116.4,757.3 1117.8,757.6 1119.2,758.0 1120.6,758.2 1122.0,758.4 1123.4,758.8 1124.8,759.1 1126.2,759.5 1127.6,759.9 1129.0,760.2 1130.4,760.2 1131.8,760.2 1133.2,760.3 1134.6,760.6 1136.0,760.9 1137.4,761.1 1138.8,761.5 1140.2,761.9 1141.6,762.0 1143.0,762.2 1144.4,762.4 1145.8,762.6 1147.2,762.8 1148.6,763.2 1150.0,763.6 1151.4,763.7 1152.8,763.8 1154.2,763.8 1155.6,763.9 1157.0,764.2 1158.4,764.4 1159.8,764.6 1161.2,764.9 1162.6,765.3 1164.0,765.4 1165.4,765.2 1166.8,765.3 1168.2,765.6 1169.6,766.1 1171.0,766.5 1172.4,766.5 1173.8,766.5 1175.2,766.6 1176.6,766.9 1178.0,767.1 1179.4,767.3 1180.8,767.5 1182.2,767.8 1183.6,767.8 1185.0,767.7 1186.4,767.7 1187.8,768.0 1189.2,768.3 1190.6,768.4 1192.0,768.5 1193.4,768.7 1194.8,768.9 1196.2,769.0 1197.6,768.9 1199.0,768.9 1200.4,769.0 1201.8,769.1 1203.2,769.1 1204.6,769.1 1206.0,769.4 1207.4,769.7 1208.8,769.8 1210.2,769.8 1211.6,769.7 1213.0,769.5 1214.4,769.5 1215.8,769.7 1217.2,770.0 1218.6,770.1 1220.0,770.1 1221.4,770.1 1222.8,770.0 1224.2,770.0 1225.6,770.1 1227.0,770.2 1228.4,770.3 1229.8,770.3 1231.2,770.2 1232.6,770.1 1234.0,770.1 1235.4,770.2 1236.8,770.2 1238.2,770.1 1239.6,770.4 1241.0,770.6 1242.4,770.4 1243.8,770.3 1245.2,770.4 1246.6,770.6 1248.0,770.5 1249.4,770.5 1250.8,770.4 1252.2,770.6 1253.6,770.7 1255.0,770.5 1256.4,770.2 1257.8,770.1 1259.2,770.2 1260.6,770.2 1262.0,770.1 1263.4,769.9 1264.5,769.9" fill="none" stroke="#fccf7a" stroke-width="2.5" stroke-linejoin="round" stroke-linecap="round"/>
<polyline points="702.0,723.5 703.4,723.2 704.8,722.8 706.2,722.3 707.6,722.0 709.0,721.7 710.4,721.4 711.8,721.0 713.2,720.7 714.6,720.3 716.0,719.7 717.4,719.3 718.8,718.9 720.2,718.4 721.6,717.7 723.0,717.1 724.4,716.6 725.8,716.2 727.2,715.7 728.6,715.0 730.0,714.4 731.4,713.8 732.8,713.4 734.2,712.8 735.6,712.0 737.0,711.1 738.4,710.5 739.8,710.1 741.2,709.6 742.6,709.0 744.0,708.4 745.4,707.9 746.8,707.4 748.2,706.9 749.6,706.2 751.0,705.5 752.4,704.8 753.8,704.1 755.2,703.4 756.6,702.6 758.0,701.6 759.4,700.4 760.8,699.1 762.2,697.7 763.6,696.6 765.0,695.3 766.4,694.0 767.8,692.4 769.2,690.8 770.6,689.3 772.0,687.8 773.4,686.0 774.8,683.9 776.2,681.9 777.6,679.9 779.0,677.8 780.4,675.5 781.8,672.9 783.2,670.2 784.6,667.5 786.0,664.6 787.4,661.4 788.8,658.3 790.2,654.9 791.6,651.3 793.0,647.2 794.4,643.2 795.8,639.4 797.2,635.7 798.6,631.9 800.0,627.7 801.4,623.3 802.8,618.6 804.2,614.0 805.6,609.1 807.0,604.0 808.4,598.7 809.8,593.4 811.2,588.2 812.6,583.2 814.0,577.8 815.4,572.1 816.8,566.2 818.2,560.4 819.6,554.5 821.0,548.5 822.4,542.8 823.8,537.5 825.2,532.1 826.6,526.7 828.0,521.6 829.4,516.8 830.8,511.8 832.2,506.8 833.6,502.0 835.0,497.4 836.4,493.0 837.8,488.4 839.2,483.4 840.6,477.9 842.0,472.4 843.4,467.2 844.8,463.1 846.2,459.9 847.6,456.9 849.0,454.7 850.4,453.9 851.8,453.5 853.2,453.2 854.6,453.1 856.0,453.2 857.4,453.4 858.8,453.5 860.2,453.5 861.6,453.4 863.0,453.4 864.4,453.5 865.8,453.6 867.2,453.8 868.6,454.0 870.0,454.4 871.4,454.7 872.8,455.1 874.2,455.6 875.6,456.8 877.0,458.5 878.4,460.5 879.8,462.6 881.2,464.9 882.6,467.4 884.0,470.0 885.4,472.8 886.8,475.7 888.2,478.6 889.6,481.7 891.0,484.5 892.4,487.0 893.8,489.5 895.2,491.9 896.6,494.2 898.0,496.6 899.4,498.9 900.8,500.8 902.2,502.4 903.6,503.8 905.0,505.1 906.4,506.1 907.8,507.3 909.2,509.0 910.6,510.6 912.0,512.1 913.4,513.6 914.8,514.9 916.2,516.3 917.6,517.9 919.0,520.0 920.4,522.5 921.8,525.3 923.2,528.2 924.6,531.1 926.0,534.2 927.4,536.9 928.8,539.0 930.2,540.8 931.6,542.5 933.0,544.3 934.4,545.9 935.8,547.6 937.2,549.4 938.6,551.2 940.0,552.9 941.4,554.6 942.8,556.3 944.2,557.8 945.6,559.1 947.0,560.9 948.4,562.8 949.8,564.6 951.2,566.2 952.6,567.8 954.0,569.5 955.4,571.3 956.8,573.0 958.2,574.6 959.6,576.3 961.0,578.0 962.4,579.5 963.8,581.0 965.2,582.6 966.6,584.1 968.0,585.6 969.4,587.1 970.8,588.5 972.2,589.8 973.6,591.0 975.0,592.2 976.4,593.8 977.8,595.5 979.2,597.2 980.6,598.7 982.0,600.1 983.4,601.6 984.8,603.4 986.2,605.0 987.6,606.3 989.0,607.6 990.4,608.8 991.8,609.8 993.2,610.7 994.6,611.9 996.0,613.2 997.4,614.8 998.8,616.5 1000.2,618.1 1001.6,619.4 1003.0,620.9 1004.4,622.7 1005.8,624.4 1007.2,625.7 1008.6,626.9 1010.0,628.2 1011.4,629.5 1012.8,631.0 1014.2,632.4 1015.6,633.6 1017.0,634.7 1018.4,635.9 1019.8,637.2 1021.2,638.3 1022.6,639.7 1024.0,641.0 1025.4,642.1 1026.8,643.2 1028.2,644.2 1029.6,645.3 1031.0,646.5 1032.4,648.0 1033.8,649.7 1035.2,651.2 1036.6,652.6 1038.0,653.8 1039.4,655.1 1040.8,656.5 1042.2,658.1 1043.6,659.9 1045.0,661.7 1046.4,663.5 1047.8,665.1 1049.2,666.6 1050.6,668.0 1052.0,669.4 1053.4,671.0 1054.8,672.5 1056.2,673.8 1057.6,675.0 1059.0,676.3 1060.4,677.4 1061.8,678.3 1063.2,679.4 1064.6,680.3 1066.0,681.2 1067.4,682.0 1068.8,682.7 1070.2,683.6 1071.6,684.6 1073.0,685.5 1074.4,686.3 1075.8,687.1 1077.2,688.0 1078.6,688.9 1080.0,689.5 1081.4,690.1 1082.8,690.6 1084.2,691.1 1085.6,691.7 1087.0,692.3 1088.4,692.9 1089.8,693.6 1091.2,694.0 1092.6,694.5 1094.0,695.2 1095.4,695.8 1096.8,696.3 1098.2,696.6 1099.6,696.9 1101.0,697.2 1102.4,697.7 1103.8,698.3 1105.2,698.8 1106.6,699.2 1108.0,699.6 1109.4,699.9 1110.8,700.3 1112.2,700.9 1113.6,701.3 1115.0,701.6 1116.4,701.9 1117.8,702.4 1119.2,703.0 1120.6,703.7 1122.0,704.0 1123.4,704.2 1124.8,704.5 1126.2,704.8 1127.6,705.3 1129.0,705.8 1130.4,706.2 1131.8,706.4 1133.2,706.6 1134.6,706.9 1136.0,707.2 1137.4,707.2 1138.8,707.3 1140.2,707.6 1141.6,707.8 1143.0,708.1 1144.4,708.4 1145.8,708.6 1147.2,708.8 1148.6,709.0 1150.0,709.4 1151.4,709.6 1152.8,709.5 1154.2,709.6 1155.6,709.8 1157.0,710.2 1158.4,710.5 1159.8,710.6 1161.2,710.9 1162.6,711.0 1164.0,711.2 1165.4,711.6 1166.8,712.2 1168.2,712.4 1169.6,712.6 1171.0,712.7 1172.4,712.9 1173.8,713.0 1175.2,713.4 1176.6,713.8 1178.0,713.8 1179.4,713.9 1180.8,714.0 1182.2,714.1 1183.6,714.3 1185.0,714.6 1186.4,714.7 1187.8,714.7 1189.2,714.8 1190.6,715.0 1192.0,715.2 1193.4,715.5 1194.8,715.5 1196.2,715.3 1197.6,715.3 1199.0,715.6 1200.4,715.8 1201.8,715.7 1203.2,715.7 1204.6,715.9 1206.0,716.2 1207.4,716.3 1208.8,716.5 1210.2,716.7 1211.6,716.9 1213.0,717.0 1214.4,717.0 1215.8,717.2 1217.2,717.5 1218.6,717.5 1220.0,717.4 1221.4,717.2 1222.8,717.4 1224.2,717.6 1225.6,717.8 1227.0,718.0 1228.4,718.1 1229.8,718.2 1231.2,718.3 1232.6,718.2 1234.0,718.2 1235.4,718.4 1236.8,718.6 1238.2,718.5 1239.6,718.5 1241.0,718.7 1242.4,718.7 1243.8,718.6 1245.2,718.7 1246.6,719.0 1248.0,719.3 1249.4,719.4 1250.8,719.4 1252.2,719.3 1253.6,719.3 1255.0,719.3 1256.4,719.4 1257.8,719.6 1259.2,719.8 1260.6,719.8 1262.0,719.8 1263.4,719.8 1264.5,719.8" fill="none" stroke="#fcb736" stroke-width="2.5" stroke-linejoin="round" stroke-linecap="round"/>
<polyline points="702.0,667.7 703.4,667.1 704.8,666.8 706.2,666.5 707.6,666.3 709.0,665.9 710.4,665.5 711.8,665.0 713.2,664.4 714.6,663.9 716.0,663.5 717.4,663.0 718.8,662.5 720.2,662.1 721.6,661.5 723.0,660.8 724.4,660.3 725.8,659.9 727.2,659.5 728.6,659.1 730.0,658.6 731.4,658.0 732.8,657.2 734.2,656.3 735.6,655.5 737.0,654.8 738.4,654.2 739.8,653.6 741.2,652.8 742.6,652.1 744.0,651.3 745.4,650.5 746.8,649.7 748.2,648.9 749.6,647.9 751.0,646.8 752.4,645.9 753.8,645.0 755.2,644.0 756.6,642.9 758.0,641.8 759.4,640.7 760.8,639.2 762.2,637.6 763.6,636.0 765.0,634.4 766.4,632.8 767.8,631.2 769.2,629.4 770.6,627.4 772.0,625.3 773.4,623.2 774.8,621.1 776.2,618.7 777.6,616.3 779.0,614.0 780.4,611.5 781.8,608.9 783.2,606.1 784.6,603.4 786.0,600.8 787.4,598.1 788.8,594.9 790.2,591.4 791.6,588.0 793.0,584.5 794.4,580.9 795.8,577.2 797.2,573.3 798.6,569.2 800.0,564.8 801.4,560.1 802.8,555.4 804.2,550.7 805.6,545.7 807.0,540.7 808.4,535.5 809.8,530.2 811.2,524.8 812.6,519.6 814.0,514.5 815.4,509.2 816.8,503.9 818.2,498.5 819.6,493.3 821.0,488.5 822.4,483.8 823.8,479.5 825.2,475.1 826.6,470.5 828.0,465.6 829.4,460.3 830.8,454.1 832.2,448.0 833.6,442.7 835.0,438.4 836.4,434.6 837.8,431.2 839.2,427.9 840.6,424.4 842.0,420.5 843.4,416.3 844.8,412.2 846.2,408.2 847.6,404.7 849.0,402.0 850.4,399.6 851.8,397.4 853.2,395.6 854.6,394.6 856.0,394.3 857.4,394.4 858.8,394.7 860.2,395.0 861.6,395.4 863.0,395.9 864.4,396.4 865.8,397.0 867.2,397.6 868.6,398.4 870.0,399.3 871.4,399.9 872.8,400.0 874.2,400.1 875.6,400.1 877.0,400.2 878.4,400.1 879.8,400.1 881.2,401.7 882.6,404.6 884.0,407.8 885.4,410.5 886.8,413.3 888.2,416.4 889.6,419.3 891.0,422.0 892.4,424.7 893.8,427.3 895.2,429.8 896.6,431.9 898.0,434.0 899.4,436.0 900.8,438.1 902.2,440.0 903.6,441.7 905.0,443.4 906.4,445.1 907.8,447.0 909.2,448.9 910.6,450.8 912.0,452.5 913.4,453.9 914.8,455.3 916.2,456.8 917.6,458.2 919.0,459.5 920.4,460.7 921.8,462.0 923.2,463.5 924.6,465.0 926.0,466.9 927.4,469.4 928.8,471.9 930.2,474.3 931.6,476.8 933.0,479.2 934.4,481.1 935.8,482.8 937.2,484.7 938.6,486.5 940.0,488.2 941.4,489.7 942.8,491.3 944.2,493.0 945.6,494.6 947.0,496.1 948.4,497.3 949.8,498.6 951.2,500.2 952.6,501.8 954.0,503.2 955.4,504.5 956.8,505.9 958.2,507.1 959.6,508.4 961.0,509.8 962.4,511.2 963.8,512.6 965.2,514.0 966.6,515.2 968.0,516.5 969.4,517.9 970.8,519.5 972.2,521.1 973.6,522.6 975.0,524.2 976.4,526.0 977.8,527.7 979.2,529.3 980.6,530.7 982.0,532.0 983.4,533.0 984.8,534.1 986.2,535.4 987.6,536.5 989.0,537.4 990.4,538.2 991.8,539.1 993.2,540.3 994.6,541.7 996.0,543.2 997.4,544.5 998.8,545.7 1000.2,547.0 1001.6,548.3 1003.0,549.5 1004.4,550.8 1005.8,552.0 1007.2,553.2 1008.6,554.7 1010.0,556.3 1011.4,557.7 1012.8,559.1 1014.2,560.6 1015.6,562.3 1017.0,563.9 1018.4,565.4 1019.8,566.6 1021.2,568.0 1022.6,569.5 1024.0,571.0 1025.4,572.5 1026.8,574.2 1028.2,575.6 1029.6,576.8 1031.0,578.3 1032.4,579.8 1033.8,581.1 1035.2,582.5 1036.6,583.8 1038.0,585.3 1039.4,586.9 1040.8,588.6 1042.2,590.3 1043.6,591.8 1045.0,593.3 1046.4,595.0 1047.8,596.8 1049.2,598.6 1050.6,600.3 1052.0,601.7 1053.4,603.2 1054.8,604.6 1056.2,605.9 1057.6,607.2 1059.0,608.5 1060.4,609.7 1061.8,610.6 1063.2,611.7 1064.6,612.7 1066.0,613.6 1067.4,614.6 1068.8,615.7 1070.2,617.0 1071.6,618.3 1073.0,619.4 1074.4,620.6 1075.8,621.8 1077.2,622.8 1078.6,623.7 1080.0,624.8 1081.4,625.9 1082.8,627.0 1084.2,627.9 1085.6,628.8 1087.0,629.7 1088.4,630.6 1089.8,631.6 1091.2,632.6 1092.6,633.4 1094.0,634.1 1095.4,634.8 1096.8,635.4 1098.2,636.1 1099.6,636.9 1101.0,637.5 1102.4,638.0 1103.8,638.5 1105.2,639.0 1106.6,639.4 1108.0,640.0 1109.4,640.6 1110.8,641.2 1112.2,641.7 1113.6,642.2 1115.0,642.7 1116.4,643.1 1117.8,643.6 1119.2,643.9 1120.6,644.2 1122.0,644.6 1123.4,645.0 1124.8,645.4 1126.2,645.8 1127.6,646.3 1129.0,646.6 1130.4,646.8 1131.8,647.1 1133.2,647.6 1134.6,648.2 1136.0,648.6 1137.4,649.0 1138.8,649.4 1140.2,649.8 1141.6,650.2 1143.0,650.7 1144.4,651.3 1145.8,651.7 1147.2,651.9 1148.6,652.0 1150.0,652.2 1151.4,652.5 1152.8,652.8 1154.2,653.0 1155.6,653.2 1157.0,653.4 1158.4,653.7 1159.8,654.1 1161.2,654.3 1162.6,654.3 1164.0,654.3 1165.4,654.4 1166.8,654.6 1168.2,655.0 1169.6,655.4 1171.0,655.6 1172.4,655.8 1173.8,655.9 1175.2,656.0 1176.6,656.1 1178.0,656.3 1179.4,656.7 1180.8,657.1 1182.2,657.4 1183.6,657.7 1185.0,658.0 1186.4,658.0 1187.8,658.1 1189.2,658.3 1190.6,658.5 1192.0,658.8 1193.4,659.1 1194.8,659.3 1196.2,659.5 1197.6,659.6 1199.0,659.7 1200.4,659.8 1201.8,660.0 1203.2,660.1 1204.6,660.3 1206.0,660.5 1207.4,660.7 1208.8,660.9 1210.2,660.9 1211.6,660.9 1213.0,661.0 1214.4,661.0 1215.8,661.1 1217.2,661.3 1218.6,661.5 1220.0,661.8 1221.4,662.1 1222.8,662.4 1224.2,662.6 1225.6,662.7 1227.0,662.7 1228.4,662.7 1229.8,662.8 1231.2,662.8 1232.6,662.9 1234.0,663.2 1235.4,663.3 1236.8,663.4 1238.2,663.5 1239.6,663.5 1241.0,663.4 1242.4,663.4 1243.8,663.5 1245.2,663.6 1246.6,663.8 1248.0,664.0 1249.4,664.0 1250.8,663.9 1252.2,663.8 1253.6,663.8 1255.0,664.0 1256.4,664.1 1257.8,664.0 1259.2,663.9 1260.6,664.0 1262.0,664.2 1263.4,664.4 1264.5,664.2" fill="none" stroke="#c8c300" stroke-width="2.5" stroke-linejoin="round" stroke-linecap="round"/>
<polyline points="702.0,614.5 703.4,613.9 704.8,613.5 706.2,613.2 707.6,612.8 709.0,612.3 710.4,611.7 711.8,611.1 713.2,610.5 714.6,610.0 716.0,609.6 717.4,609.1 718.8,608.4 720.2,608.0 721.6,607.7 723.0,607.4 724.4,606.8 725.8,606.1 727.2,605.3 728.6,604.8 730.0,604.4 731.4,603.9 732.8,603.3 734.2,602.7 735.6,602.3 737.0,601.6 738.4,600.8 739.8,600.1 741.2,599.5 742.6,598.9 744.0,598.3 745.4,597.7 746.8,596.8 748.2,596.1 749.6,595.4 751.0,594.8 752.4,594.2 753.8,593.5 755.2,592.6 756.6,591.6 758.0,590.6 759.4,589.5 760.8,588.3 762.2,587.1 763.6,585.4 765.0,583.7 766.4,582.0 767.8,580.1 769.2,578.3 770.6,576.6 772.0,574.8 773.4,572.8 774.8,570.9 776.2,568.9 777.6,566.9 779.0,565.1 780.4,563.2 781.8,560.9 783.2,558.3 784.6,555.6 786.0,552.9 787.4,550.1 788.8,547.1 790.2,543.8 791.6,540.3 793.0,536.5 794.4,532.6 795.8,528.6 797.2,524.5 798.6,520.0 800.0,515.3 801.4,510.6 802.8,505.8 804.2,501.0 805.6,496.2 807.0,491.2 808.4,486.1 809.8,480.8 811.2,475.3 812.6,469.5 814.0,463.7 815.4,457.3 816.8,449.8 818.2,440.4 819.6,433.5 821.0,427.8 822.4,422.5 823.8,417.7 825.2,413.3 826.6,409.1 828.0,404.7 829.4,400.3 830.8,395.9 832.2,391.6 833.6,387.7 835.0,384.0 836.4,380.3 837.8,376.4 839.2,372.7 840.6,369.0 842.0,365.1 843.4,361.3 844.8,357.4 846.2,353.6 847.6,350.0 849.0,347.1 850.4,344.4 851.8,341.9 853.2,340.1 854.6,339.4 856.0,339.6 857.4,339.9 858.8,340.0 860.2,340.0 861.6,340.2 863.0,340.5 864.4,340.6 865.8,340.6 867.2,340.6 868.6,340.9 870.0,341.1 871.4,341.1 872.8,341.2 874.2,341.4 875.6,341.5 877.0,341.7 878.4,341.9 879.8,342.6 881.2,344.6 882.6,347.2 884.0,349.9 885.4,353.2 886.8,356.8 888.2,360.4 889.6,363.7 891.0,366.7 892.4,369.3 893.8,372.1 895.2,374.8 896.6,377.0 898.0,379.0 899.4,380.8 900.8,382.1 902.2,383.1 903.6,383.9 905.0,384.8 906.4,385.9 907.8,387.7 909.2,389.7 910.6,391.9 912.0,394.1 913.4,396.4 914.8,398.6 916.2,400.2 917.6,401.4 919.0,402.6 920.4,404.1 921.8,405.5 923.2,407.0 924.6,408.6 926.0,410.3 927.4,411.8 928.8,413.3 930.2,414.9 931.6,416.7 933.0,418.7 934.4,420.8 935.8,423.0 937.2,425.4 938.6,427.8 940.0,430.0 941.4,432.0 942.8,433.8 944.2,435.1 945.6,436.3 947.0,437.2 948.4,438.1 949.8,439.3 951.2,440.5 952.6,441.9 954.0,443.4 955.4,445.1 956.8,447.1 958.2,449.1 959.6,450.9 961.0,452.5 962.4,454.0 963.8,455.7 965.2,457.6 966.6,459.5 968.0,461.1 969.4,462.6 970.8,464.2 972.2,465.7 973.6,467.1 975.0,468.3 976.4,469.6 977.8,471.1 979.2,472.7 980.6,474.3 982.0,475.9 983.4,477.3 984.8,478.6 986.2,479.8 987.6,481.0 989.0,482.0 990.4,483.1 991.8,484.2 993.2,485.4 994.6,486.5 996.0,487.6 997.4,488.7 998.8,489.7 1000.2,490.9 1001.6,492.3 1003.0,493.5 1004.4,494.7 1005.8,496.2 1007.2,497.5 1008.6,498.7 1010.0,500.1 1011.4,501.3 1012.8,502.6 1014.2,504.1 1015.6,505.4 1017.0,506.8 1018.4,508.1 1019.8,509.6 1021.2,511.0 1022.6,512.5 1024.0,513.9 1025.4,515.1 1026.8,516.3 1028.2,517.8 1029.6,519.5 1031.0,521.1 1032.4,522.6 1033.8,523.9 1035.2,525.3 1036.6,526.8 1038.0,528.4 1039.4,529.9 1040.8,531.5 1042.2,533.1 1043.6,534.6 1045.0,536.2 1046.4,537.8 1047.8,539.8 1049.2,542.1 1050.6,544.2 1052.0,545.8 1053.4,547.1 1054.8,548.5 1056.2,549.9 1057.6,551.1 1059.0,552.3 1060.4,553.6 1061.8,554.9 1063.2,556.2 1064.6,557.3 1066.0,558.2 1067.4,559.1 1068.8,560.0 1070.2,561.1 1071.6,562.4 1073.0,563.5 1074.4,564.4 1075.8,565.3 1077.2,566.1 1078.6,567.0 1080.0,567.9 1081.4,569.1 1082.8,570.5 1084.2,571.7 1085.6,572.9 1087.0,574.3 1088.4,575.9 1089.8,577.1 1091.2,577.8 1092.6,578.5 1094.0,579.2 1095.4,579.8 1096.8,580.1 1098.2,580.5 1099.6,581.0 1101.0,581.5 1102.4,581.7 1103.8,581.8 1105.2,582.2 1106.6,582.7 1108.0,583.1 1109.4,583.5 1110.8,583.9 1112.2,584.4 1113.6,584.9 1115.0,585.4 1116.4,586.1 1117.8,586.7 1119.2,587.5 1120.6,588.2 1122.0,588.9 1123.4,589.3 1124.8,589.7 1126.2,590.1 1127.6,590.4 1129.0,590.9 1130.4,591.7 1131.8,592.3 1133.2,592.7 1134.6,593.0 1136.0,593.3 1137.4,593.7 1138.8,594.2 1140.2,594.6 1141.6,594.8 1143.0,595.2 1144.4,595.7 1145.8,596.3 1147.2,596.7 1148.6,596.9 1150.0,597.2 1151.4,597.7 1152.8,598.1 1154.2,598.4 1155.6,598.7 1157.0,598.9 1158.4,599.4 1159.8,599.9 1161.2,600.3 1162.6,600.4 1164.0,600.7 1165.4,601.1 1166.8,601.4 1168.2,601.6 1169.6,602.0 1171.0,602.3 1172.4,602.6 1173.8,602.8 1175.2,602.9 1176.6,603.0 1178.0,603.1 1179.4,603.2 1180.8,603.4 1182.2,603.7 1183.6,603.8 1185.0,604.1 1186.4,604.3 1187.8,604.4 1189.2,604.5 1190.6,604.7 1192.0,604.8 1193.4,604.8 1194.8,604.8 1196.2,605.1 1197.6,605.4 1199.0,605.4 1200.4,605.3 1201.8,605.3 1203.2,605.5 1204.6,605.7 1206.0,606.0 1207.4,606.2 1208.8,606.2 1210.2,606.3 1211.6,606.4 1213.0,606.5 1214.4,606.6 1215.8,606.7 1217.2,607.0 1218.6,607.1 1220.0,607.2 1221.4,607.5 1222.8,607.7 1224.2,608.0 1225.6,608.2 1227.0,608.3 1228.4,608.5 1229.8,608.6 1231.2,608.6 1232.6,608.8 1234.0,609.1 1235.4,609.4 1236.8,609.5 1238.2,609.4 1239.6,609.6 1241.0,609.9 1242.4,610.0 1243.8,610.4 1245.2,610.9 1246.6,611.2 1248.0,611.3 1249.4,611.5 1250.8,611.8 1252.2,611.9 1253.6,611.8 1255.0,611.7 1256.4,611.5 1257.8,611.4 1259.2,611.4 1260.6,611.3 1262.0,611.0 1263.4,610.3 1264.5,610.2" fill="none" stroke="#0ac878" stroke-width="2.5" stroke-linejoin="round" stroke-linecap="round"/>
<polyline points="702.0,557.3 703.4,556.9 704.8,556.5 706.2,556.1 707.6,555.6 709.0,555.3 710.4,554.8 711.8,554.3 713.2,553.7 714.6,553.2 716.0,552.7 717.4,552.1 718.8,551.6 720.2,551.3 721.6,550.9 723.0,550.4 724.4,549.8 725.8,549.4 727.2,548.9 728.6,548.2 730.0,547.4 731.4,546.7 732.8,546.2 734.2,545.8 735.6,545.2 737.0,544.5 738.4,543.9 739.8,543.2 741.2,542.5 742.6,541.9 744.0,541.3 745.4,540.6 746.8,540.0 748.2,539.3 749.6,538.6 751.0,538.1 752.4,537.4 753.8,536.4 755.2,535.4 756.6,534.5 758.0,533.5 759.4,532.4 760.8,531.2 762.2,529.7 763.6,528.1 765.0,526.4 766.4,524.6 767.8,523.2 769.2,521.9 770.6,520.3 772.0,518.4 773.4,516.5 774.8,514.3 776.2,512.0 777.6,509.7 779.0,507.2 780.4,504.4 781.8,501.7 783.2,499.0 784.6,496.1 786.0,492.9 787.4,489.8 788.8,486.5 790.2,483.2 791.6,479.7 793.0,475.7 794.4,471.3 795.8,466.6 797.2,462.1 798.6,457.7 800.0,453.5 801.4,449.4 802.8,444.9 804.2,440.2 805.6,435.3 807.0,429.8 808.4,423.9 809.8,418.0 811.2,411.9 812.6,405.6 814.0,399.4 815.4,393.4 816.8,388.1 818.2,383.1 819.6,378.1 821.0,373.2 822.4,368.8 823.8,364.6 825.2,360.4 826.6,356.3 828.0,352.3 829.4,348.2 830.8,344.0 832.2,339.9 833.6,335.8 835.0,331.5 836.4,327.4 837.8,323.2 839.2,318.7 840.6,313.8 842.0,309.0 843.4,304.5 844.8,300.5 846.2,296.9 847.6,293.3 849.0,290.3 850.4,288.3 851.8,286.7 853.2,285.2 854.6,284.5 856.0,284.5 857.4,284.7 858.8,285.1 860.2,285.5 861.6,285.8 863.0,286.1 864.4,286.4 865.8,286.5 867.2,286.5 868.6,286.5 870.0,286.7 871.4,286.9 872.8,287.3 874.2,287.9 875.6,288.7 877.0,289.6 878.4,290.6 879.8,292.4 881.2,295.0 882.6,297.8 884.0,300.4 885.4,303.1 886.8,306.1 888.2,309.0 889.6,311.8 891.0,314.2 892.4,316.5 893.8,318.8 895.2,320.9 896.6,322.8 898.0,324.3 899.4,325.6 900.8,326.3 902.2,326.8 903.6,327.9 905.0,329.5 906.4,331.9 907.8,334.6 909.2,336.5 910.6,338.0 912.0,339.4 913.4,340.6 914.8,341.6 916.2,342.3 917.6,343.1 919.0,344.0 920.4,344.9 921.8,345.9 923.2,347.1 924.6,348.4 926.0,350.2 927.4,352.2 928.8,354.4 930.2,356.9 931.6,359.3 933.0,361.7 934.4,363.6 935.8,365.5 937.2,367.4 938.6,369.2 940.0,371.0 941.4,372.6 942.8,374.1 944.2,375.4 945.6,376.5 947.0,377.6 948.4,378.6 949.8,379.5 951.2,380.4 952.6,381.5 954.0,382.6 955.4,383.6 956.8,384.8 958.2,385.9 959.6,386.7 961.0,387.6 962.4,388.8 963.8,390.1 965.2,391.4 966.6,392.8 968.0,394.2 969.4,395.5 970.8,396.8 972.2,398.2 973.6,399.7 975.0,401.4 976.4,403.1 977.8,404.8 979.2,406.4 980.6,408.0 982.0,409.4 983.4,410.5 984.8,411.4 986.2,412.2 987.6,412.8 989.0,413.3 990.4,413.7 991.8,414.2 993.2,414.7 994.6,415.1 996.0,415.6 997.4,416.3 998.8,417.3 1000.2,418.5 1001.6,419.6 1003.0,420.7 1004.4,422.0 1005.8,423.3 1007.2,424.8 1008.6,426.6 1010.0,428.4 1011.4,430.3 1012.8,432.1 1014.2,433.8 1015.6,435.5 1017.0,436.7 1018.4,437.5 1019.8,438.1 1021.2,438.9 1022.6,439.6 1024.0,440.5 1025.4,441.7 1026.8,442.8 1028.2,444.0 1029.6,445.5 1031.0,447.2 1032.4,448.8 1033.8,450.5 1035.2,452.3 1036.6,453.9 1038.0,455.4 1039.4,457.2 1040.8,459.2 1042.2,461.5 1043.6,463.8 1045.0,465.9 1046.4,467.8 1047.8,469.9 1049.2,471.9 1050.6,473.7 1052.0,475.4 1053.4,477.1 1054.8,478.7 1056.2,480.5 1057.6,482.3 1059.0,483.8 1060.4,485.1 1061.8,486.6 1063.2,488.1 1064.6,489.7 1066.0,491.2 1067.4,492.7 1068.8,494.2 1070.2,495.4 1071.6,496.4 1073.0,497.7 1074.4,499.1 1075.8,500.3 1077.2,501.6 1078.6,502.7 1080.0,503.7 1081.4,504.6 1082.8,505.7 1084.2,506.7 1085.6,507.8 1087.0,509.0 1088.4,510.1 1089.8,511.1 1091.2,512.1 1092.6,513.0 1094.0,514.0 1095.4,514.9 1096.8,515.6 1098.2,516.4 1099.6,517.2 1101.0,517.8 1102.4,518.5 1103.8,519.1 1105.2,519.4 1106.6,519.8 1108.0,520.2 1109.4,520.8 1110.8,521.4 1112.2,522.0 1113.6,522.8 1115.0,523.5 1116.4,524.2 1117.8,524.8 1119.2,525.4 1120.6,526.2 1122.0,527.1 1123.4,527.9 1124.8,528.8 1126.2,529.5 1127.6,530.2 1129.0,530.7 1130.4,531.4 1131.8,532.0 1133.2,532.5 1134.6,532.9 1136.0,533.4 1137.4,534.1 1138.8,534.4 1140.2,534.7 1141.6,535.3 1143.0,535.9 1144.4,536.5 1145.8,536.9 1147.2,537.4 1148.6,537.9 1150.0,538.5 1151.4,538.9 1152.8,539.2 1154.2,539.3 1155.6,539.5 1157.0,539.8 1158.4,540.1 1159.8,540.4 1161.2,540.4 1162.6,540.5 1164.0,540.8 1165.4,541.1 1166.8,541.4 1168.2,541.7 1169.6,542.0 1171.0,542.5 1172.4,542.8 1173.8,542.9 1175.2,543.2 1176.6,543.6 1178.0,543.9 1179.4,544.2 1180.8,544.6 1182.2,545.0 1183.6,545.2 1185.0,545.5 1186.4,545.9 1187.8,546.2 1189.2,546.2 1190.6,546.3 1192.0,546.6 1193.4,546.7 1194.8,546.9 1196.2,547.1 1197.6,547.2 1199.0,547.4 1200.4,547.5 1201.8,547.7 1203.2,548.1 1204.6,548.7 1206.0,549.1 1207.4,549.2 1208.8,549.3 1210.2,549.5 1211.6,549.7 1213.0,549.9 1214.4,549.9 1215.8,549.9 1217.2,550.0 1218.6,550.1 1220.0,550.2 1221.4,550.4 1222.8,550.8 1224.2,551.0 1225.6,551.2 1227.0,551.6 1228.4,551.7 1229.8,551.7 1231.2,551.7 1232.6,552.0 1234.0,552.2 1235.4,552.3 1236.8,552.4 1238.2,552.6 1239.6,552.7 1241.0,553.1 1242.4,553.5 1243.8,553.7 1245.2,553.9 1246.6,554.1 1248.0,554.1 1249.4,554.1 1250.8,554.1 1252.2,554.2 1253.6,554.4 1255.0,554.6 1256.4,554.6 1257.8,554.3 1259.2,553.9 1260.6,553.6 1262.0,553.6 1263.4,553.5 1264.5,553.1" fill="none" stroke="#058f0f" stroke-width="2.5" stroke-linejoin="round" stroke-linecap="round"/>
<polyline points="702.0,500.4 703.4,500.2 704.8,500.2 706.2,500.0 707.6,499.7 709.0,499.5 710.4,499.3 711.8,499.0 713.2,498.7 714.6,498.3 716.0,497.8 717.4,497.2 718.8,496.6 720.2,495.9 721.6,495.2 723.0,494.6 724.4,494.0 725.8,493.3 727.2,492.6 728.6,491.7 730.0,490.7 731.4,490.0 732.8,489.5 734.2,489.0 735.6,488.5 737.0,488.1 738.4,487.5 739.8,486.8 741.2,486.2 742.6,485.5 744.0,484.8 745.4,484.2 746.8,483.4 748.2,482.5 749.6,481.6 751.0,480.7 752.4,479.2 753.8,477.6 755.2,476.2 756.6,475.0 758.0,473.7 759.4,472.4 760.8,471.0 762.2,469.6 763.6,468.1 765.0,466.4 766.4,464.9 767.8,463.3 769.2,461.7 770.6,459.7 772.0,457.5 773.4,455.3 774.8,453.0 776.2,450.6 777.6,447.9 779.0,445.2 780.4,442.1 781.8,438.8 783.2,435.2 784.6,431.3 786.0,427.1 787.4,422.9 788.8,418.5 790.2,414.0 791.6,409.3 793.0,404.8 794.4,400.1 795.8,395.1 797.2,390.2 798.6,385.2 800.0,380.0 801.4,374.6 802.8,368.8 804.2,362.8 805.6,356.6 807.0,350.2 808.4,344.1 809.8,338.2 811.2,332.3 812.6,326.4 814.0,320.8 815.4,315.8 816.8,311.1 818.2,306.6 819.6,302.0 821.0,297.7 822.4,293.8 823.8,289.9 825.2,286.5 826.6,283.3 828.0,280.1 829.4,277.0 830.8,273.7 832.2,270.3 833.6,266.9 835.0,263.5 836.4,260.2 837.8,256.8 839.2,253.1 840.6,248.9 842.0,244.8 843.4,240.8 844.8,237.3 846.2,234.2 847.6,231.0 849.0,228.0 850.4,225.7 851.8,225.0 853.2,225.4 854.6,226.2 856.0,227.5 857.4,228.9 858.8,229.8 860.2,230.4 861.6,231.2 863.0,232.0 864.4,232.5 865.8,232.5 867.2,232.2 868.6,231.6 870.0,230.7 871.4,230.0 872.8,229.8 874.2,229.6 875.6,229.0 877.0,228.5 878.4,228.4 879.8,228.6 881.2,229.8 882.6,232.0 884.0,234.5 885.4,236.7 886.8,238.9 888.2,241.2 889.6,243.0 891.0,244.2 892.4,245.3 893.8,246.3 895.2,247.2 896.6,248.0 898.0,248.8 899.4,249.3 900.8,249.5 902.2,249.7 903.6,250.2 905.0,250.9 906.4,252.3 907.8,257.5 909.2,257.8 910.6,257.9 912.0,257.7 913.4,257.6 914.8,257.8 916.2,258.0 917.6,258.4 919.0,258.7 920.4,259.5 921.8,260.7 923.2,262.0 924.6,263.5 926.0,265.7 927.4,268.0 928.8,270.2 930.2,272.2 931.6,274.1 933.0,276.0 934.4,277.9 935.8,279.5 937.2,281.1 938.6,282.6 940.0,284.0 941.4,285.3 942.8,286.4 944.2,287.5 945.6,288.7 947.0,290.0 948.4,291.5 949.8,292.9 951.2,294.1 952.6,295.0 954.0,295.9 955.4,296.9 956.8,298.1 958.2,299.1 959.6,300.1 961.0,301.2 962.4,302.2 963.8,303.3 965.2,304.6 966.6,305.9 968.0,307.0 969.4,308.3 970.8,309.5 972.2,310.5 973.6,310.9 975.0,311.1 976.4,311.5 977.8,312.0 979.2,312.2 980.6,312.4 982.0,312.8 983.4,313.3 984.8,313.3 986.2,312.4 987.6,311.0 989.0,309.4 990.4,308.0 991.8,306.8 993.2,306.2 994.6,305.8 996.0,305.3 997.4,305.0 998.8,304.9 1000.2,304.7 1001.6,304.4 1003.0,304.1 1004.4,304.0 1005.8,304.2 1007.2,304.6 1008.6,304.9 1010.0,305.2 1011.4,305.6 1012.8,306.4 1014.2,307.1 1015.6,307.7 1017.0,308.2 1018.4,308.9 1019.8,309.7 1021.2,310.6 1022.6,311.8 1024.0,313.1 1025.4,314.4 1026.8,315.6 1028.2,316.9 1029.6,318.0 1031.0,319.1 1032.4,320.5 1033.8,322.1 1035.2,323.7 1036.6,325.3 1038.0,327.1 1039.4,329.1 1040.8,331.2 1042.2,333.1 1043.6,335.1 1045.0,337.4 1046.4,339.9 1047.8,342.5 1049.2,345.2 1050.6,348.0 1052.0,350.7 1053.4,353.4 1054.8,355.8 1056.2,358.4 1057.6,361.2 1059.0,363.9 1060.4,366.5 1061.8,369.1 1063.2,371.7 1064.6,374.3 1066.0,376.8 1067.4,379.4 1068.8,381.9 1070.2,384.5 1071.6,387.1 1073.0,389.3 1074.4,391.6 1075.8,394.1 1077.2,396.6 1078.6,398.9 1080.0,401.1 1081.4,403.4 1082.8,405.9 1084.2,408.9 1085.6,411.8 1087.0,414.4 1088.4,416.6 1089.8,418.9 1091.2,420.9 1092.6,422.5 1094.0,424.1 1095.4,425.8 1096.8,427.4 1098.2,428.8 1099.6,429.9 1101.0,431.3 1102.4,432.6 1103.8,433.8 1105.2,435.2 1106.6,436.6 1108.0,437.7 1109.4,438.5 1110.8,439.4 1112.2,440.7 1113.6,442.1 1115.0,443.4 1116.4,444.9 1117.8,446.3 1119.2,447.3 1120.6,448.3 1122.0,449.6 1123.4,450.7 1124.8,452.0 1126.2,453.2 1127.6,454.5 1129.0,455.6 1130.4,456.6 1131.8,457.8 1133.2,458.9 1134.6,460.0 1136.0,461.0 1137.4,461.9 1138.8,462.6 1140.2,463.5 1141.6,464.5 1143.0,465.2 1144.4,465.7 1145.8,466.2 1147.2,466.6 1148.6,467.2 1150.0,468.0 1151.4,468.8 1152.8,469.5 1154.2,470.1 1155.6,470.8 1157.0,471.5 1158.4,472.2 1159.8,473.0 1161.2,473.6 1162.6,474.2 1164.0,474.6 1165.4,475.4 1166.8,476.4 1168.2,477.1 1169.6,477.5 1171.0,477.9 1172.4,478.4 1173.8,479.1 1175.2,479.7 1176.6,480.2 1178.0,480.9 1179.4,481.6 1180.8,482.0 1182.2,482.5 1183.6,482.9 1185.0,483.5 1186.4,484.1 1187.8,484.5 1189.2,484.8 1190.6,485.3 1192.0,485.7 1193.4,486.0 1194.8,486.3 1196.2,486.5 1197.6,486.7 1199.0,486.9 1200.4,487.1 1201.8,487.4 1203.2,487.7 1204.6,487.8 1206.0,488.0 1207.4,488.2 1208.8,488.3 1210.2,488.5 1211.6,488.7 1213.0,489.1 1214.4,489.3 1215.8,489.4 1217.2,489.5 1218.6,489.8 1220.0,490.1 1221.4,490.4 1222.8,490.5 1224.2,490.6 1225.6,490.7 1227.0,490.9 1228.4,491.2 1229.8,491.3 1231.2,491.3 1232.6,491.5 1234.0,492.0 1235.4,492.3 1236.8,492.4 1238.2,492.4 1239.6,492.5 1241.0,492.6 1242.4,492.8 1243.8,493.0 1245.2,493.1 1246.6,493.2 1248.0,493.4 1249.4,493.7 1250.8,493.7 1252.2,493.7 1253.6,493.6 1255.0,493.8 1256.4,493.9 1257.8,493.9 1259.2,493.9 1260.6,494.1 1262.0,494.3 1263.4,494.3 1264.5,494.4" fill="none" stroke="#0a0af0" stroke-width="2.5" stroke-linejoin="round" stroke-linecap="round"/>
<polyline points="702.0,404.8 703.4,404.1 704.8,403.4 706.2,402.9 707.6,402.4 709.0,401.8 710.4,401.2 711.8,400.6 713.2,400.1 714.6,399.6 716.0,399.0 717.4,398.3 718.8,397.6 720.2,397.0 721.6,396.3 723.0,395.5 724.4,394.8 725.8,394.2 727.2,393.6 728.6,392.7 730.0,391.8 731.4,391.1 732.8,390.4 734.2,389.6 735.6,388.7 737.0,387.9 738.4,387.3 739.8,386.7 741.2,386.1 742.6,385.6 744.0,385.1 745.4,384.5 746.8,383.7 748.2,382.8 749.6,382.0 751.0,381.3 752.4,380.6 753.8,379.9 755.2,379.3 756.6,378.7 758.0,378.0 759.4,377.2 760.8,376.3 762.2,375.4 763.6,374.4 765.0,373.5 766.4,372.8 767.8,372.0 769.2,370.9 770.6,369.7 772.0,368.6 773.4,367.5 774.8,366.3 776.2,365.0 777.6,363.7 779.0,362.2 780.4,360.8 781.8,359.2 783.2,357.5 784.6,355.7 786.0,353.8 787.4,351.9 788.8,349.9 790.2,347.8 791.6,345.5 793.0,343.1 794.4,340.5 795.8,338.0 797.2,335.4 798.6,332.8 800.0,330.0 801.4,326.9 802.8,323.7 804.2,320.5 805.6,317.1 807.0,313.6 808.4,309.8 809.8,305.8 811.2,301.8 812.6,297.5 814.0,292.8 815.4,288.1 816.8,283.3 818.2,277.9 819.6,272.3 821.0,266.7 822.4,260.9 823.8,255.1 825.2,249.6 826.6,244.1 828.0,238.5 829.4,232.7 830.8,226.8 832.2,220.7 833.6,214.0 835.0,207.1 836.4,200.3 837.8,194.0 839.2,188.1 840.6,182.4 842.0,176.9 843.4,171.5 844.8,166.7 846.2,162.6 847.6,159.0 849.0,155.5 850.4,152.1 851.8,149.2 853.2,147.1 854.6,145.6 856.0,144.4 857.4,143.5 858.8,142.8 860.2,142.0 861.6,141.3 863.0,140.6 864.4,140.1 865.8,139.7 867.2,139.3 868.6,138.8 870.0,138.1 871.4,137.3 872.8,136.5 874.2,136.1 875.6,137.1 877.0,139.3 878.4,141.7 879.8,144.1 881.2,147.0 882.6,150.1 884.0,153.3 885.4,156.3 886.8,158.7 888.2,160.8 889.6,162.9 891.0,165.0 892.4,166.7 893.8,168.1 895.2,169.3 896.6,170.1 898.0,170.5 899.4,170.8 900.8,171.1 902.2,171.4 903.6,171.7 905.0,172.3 906.4,172.9 907.8,173.9 909.2,175.3 910.6,176.9 912.0,178.5 913.4,180.1 914.8,181.6 916.2,183.0 917.6,184.6 919.0,186.4 920.4,187.9 921.8,189.2 923.2,190.2 924.6,190.6 926.0,191.0 927.4,191.4 928.8,191.5 930.2,191.7 931.6,191.6 933.0,191.6 934.4,191.8 935.8,191.9 937.2,192.1 938.6,192.5 940.0,193.0 941.4,193.3 942.8,193.5 944.2,193.9 945.6,194.4 947.0,195.1 948.4,196.3 949.8,197.9 951.2,199.9 952.6,202.2 954.0,204.6 955.4,206.7 956.8,208.4 958.2,209.8 959.6,211.1 961.0,212.3 962.4,213.5 963.8,214.8 965.2,216.1 966.6,217.7 968.0,219.3 969.4,220.7 970.8,222.1 972.2,223.3 973.6,224.6 975.0,226.0 976.4,227.6 977.8,229.2 979.2,230.6 980.6,231.8 982.0,233.0 983.4,234.3 984.8,235.7 986.2,237.1 987.6,238.5 989.0,239.9 990.4,241.1 991.8,242.1 993.2,242.9 994.6,243.8 996.0,244.8 997.4,245.6 998.8,246.4 1000.2,247.1 1001.6,247.6 1003.0,247.9 1004.4,248.2 1005.8,248.4 1007.2,248.1 1008.6,247.5 1010.0,246.8 1011.4,245.8 1012.8,244.5 1014.2,243.0 1015.6,241.5 1017.0,240.1 1018.4,238.5 1019.8,237.1 1021.2,236.0 1022.6,235.1 1024.0,234.5 1025.4,234.1 1026.8,233.8 1028.2,233.4 1029.6,233.2 1031.0,233.0 1032.4,232.8 1033.8,232.4 1035.2,231.9 1036.6,231.3 1038.0,230.7 1039.4,230.0 1040.8,229.5 1042.2,228.9 1043.6,228.4 1045.0,227.6 1046.4,226.8 1047.8,226.1 1049.2,225.4 1050.6,225.1 1052.0,225.0 1053.4,225.0 1054.8,225.1 1056.2,225.1 1057.6,225.7 1059.0,227.2 1060.4,228.8 1061.8,230.3 1063.2,231.8 1064.6,233.5 1066.0,235.3 1067.4,237.0 1068.8,238.6 1070.2,240.3 1071.6,242.6 1073.0,245.3 1074.4,247.7 1075.8,249.9 1077.2,252.1 1078.6,254.3 1080.0,256.3 1081.4,258.0 1082.8,259.8 1084.2,261.6 1085.6,263.2 1087.0,264.6 1088.4,266.1 1089.8,267.8 1091.2,269.6 1092.6,271.6 1094.0,274.2 1095.4,277.5 1096.8,281.0 1098.2,284.4 1099.6,287.8 1101.0,291.0 1102.4,293.8 1103.8,296.4 1105.2,299.2 1106.6,301.8 1108.0,304.1 1109.4,306.5 1110.8,308.9 1112.2,311.2 1113.6,313.3 1115.0,315.2 1116.4,317.0 1117.8,318.9 1119.2,320.8 1120.6,322.8 1122.0,324.6 1123.4,326.4 1124.8,328.3 1126.2,330.0 1127.6,331.7 1129.0,333.5 1130.4,335.2 1131.8,336.9 1133.2,338.5 1134.6,340.1 1136.0,341.9 1137.4,343.5 1138.8,345.2 1140.2,346.8 1141.6,348.3 1143.0,349.7 1144.4,351.2 1145.8,352.8 1147.2,354.2 1148.6,355.6 1150.0,357.0 1151.4,358.4 1152.8,359.7 1154.2,360.7 1155.6,361.7 1157.0,362.8 1158.4,364.2 1159.8,365.4 1161.2,366.4 1162.6,367.3 1164.0,368.3 1165.4,369.2 1166.8,370.1 1168.2,370.9 1169.6,371.8 1171.0,372.8 1172.4,373.6 1173.8,374.3 1175.2,375.0 1176.6,375.8 1178.0,376.6 1179.4,377.2 1180.8,377.7 1182.2,378.3 1183.6,378.8 1185.0,379.3 1186.4,380.1 1187.8,380.8 1189.2,381.4 1190.6,382.0 1192.0,382.6 1193.4,383.0 1194.8,383.5 1196.2,384.0 1197.6,384.7 1199.0,385.2 1200.4,385.6 1201.8,385.8 1203.2,385.9 1204.6,386.4 1206.0,387.0 1207.4,387.4 1208.8,387.8 1210.2,388.3 1211.6,388.7 1213.0,388.9 1214.4,389.2 1215.8,389.5 1217.2,389.8 1218.6,390.1 1220.0,390.3 1221.4,390.4 1222.8,390.7 1224.2,391.0 1225.6,391.3 1227.0,391.6 1228.4,391.9 1229.8,392.3 1231.2,392.4 1232.6,392.5 1234.0,392.8 1235.4,393.1 1236.8,393.2 1238.2,393.3 1239.6,393.7 1241.0,394.0 1242.4,394.1 1243.8,394.3 1245.2,394.5 1246.6,394.7 1248.0,394.9 1249.4,395.2 1250.8,395.5 1252.2,395.7 1253.6,395.8 1255.0,396.0 1256.4,396.2 1257.8,396.4 1259.2,396.7 1260.6,397.0 1262.0,397.2 1263.4,397.3 1264.5,397.3" fill="none" stroke="#0023c8" stroke-width="2.5" stroke-linejoin="round" stroke-linecap="round"/>
<polyline points="702.0,340.3 703.4,340.3 704.8,339.9 706.2,339.4 707.6,338.9 709.0,338.5 710.4,337.9 711.8,337.4 713.2,336.8 714.6,336.2 716.0,335.7 717.4,335.4 718.8,334.9 720.2,334.5 721.6,334.0 723.0,333.4 724.4,332.8 725.8,332.2 727.2,331.5 728.6,330.8 730.0,330.3 731.4,329.8 732.8,329.3 734.2,328.6 735.6,327.7 737.0,326.9 738.4,326.2 739.8,325.7 741.2,325.3 742.6,324.7 744.0,324.2 745.4,323.6 746.8,323.0 748.2,322.4 749.6,321.6 751.0,320.8 752.4,320.2 753.8,319.7 755.2,319.1 756.6,318.4 758.0,317.7 759.4,317.1 760.8,316.5 762.2,316.1 763.6,315.5 765.0,314.8 766.4,314.1 767.8,313.3 769.2,312.5 770.6,311.7 772.0,310.8 773.4,309.6 774.8,308.7 776.2,307.9 777.6,306.8 779.0,305.6 780.4,304.4 781.8,303.2 783.2,301.7 784.6,300.2 786.0,298.8 787.4,297.5 788.8,296.0 790.2,294.5 791.6,293.0 793.0,291.1 794.4,289.2 795.8,287.3 797.2,285.5 798.6,283.8 800.0,281.9 801.4,279.6 802.8,277.1 804.2,274.4 805.6,271.5 807.0,268.3 808.4,264.7 809.8,261.0 811.2,256.9 812.6,252.2 814.0,247.4 815.4,242.6 816.8,237.7 818.2,232.2 819.6,226.4 821.0,220.2 822.4,213.7 823.8,206.9 825.2,200.1 826.6,193.4 828.0,186.4 829.4,179.3 830.8,172.1 832.2,165.0 833.6,158.3 835.0,151.7 836.4,145.3 837.8,139.1 839.2,133.1 840.6,127.5 842.0,122.0 843.4,116.6 844.8,111.3 846.2,106.3 847.6,101.6 849.0,96.8 850.4,92.1 851.8,87.7 853.2,83.7 854.6,80.1 856.0,76.9 857.4,74.1 858.8,71.3 860.2,69.1 861.6,67.8 863.0,66.9 864.4,66.4 865.8,66.6 867.2,67.4 868.6,68.5 870.0,70.1 871.4,72.8 872.8,75.9 874.2,79.1 875.6,82.3 877.0,85.1 878.4,87.7 879.8,90.4 881.2,93.1 882.6,95.5 884.0,97.5 885.4,99.4 886.8,100.9 888.2,102.1 889.6,103.4 891.0,104.4 892.4,105.5 893.8,106.9 895.2,108.7 896.6,111.2 898.0,114.4 899.4,117.7 900.8,120.6 902.2,122.9 903.6,125.2 905.0,127.4 906.4,129.5 907.8,131.3 909.2,132.8 910.6,134.0 912.0,134.7 913.4,135.3 914.8,135.8 916.2,136.3 917.6,136.7 919.0,136.7 920.4,136.5 921.8,136.4 923.2,136.3 924.6,136.3 926.0,136.1 927.4,135.9 928.8,135.5 930.2,135.1 931.6,134.6 933.0,134.3 934.4,134.5 935.8,135.0 937.2,135.8 938.6,136.9 940.0,138.2 941.4,139.3 942.8,140.4 944.2,141.3 945.6,142.1 947.0,143.0 948.4,144.1 949.8,145.2 951.2,146.3 952.6,147.4 954.0,148.4 955.4,149.5 956.8,150.7 958.2,152.1 959.6,153.5 961.0,155.1 962.4,156.6 963.8,157.9 965.2,159.4 966.6,160.9 968.0,162.3 969.4,163.6 970.8,165.1 972.2,166.5 973.6,168.0 975.0,169.7 976.4,171.3 977.8,173.1 979.2,175.0 980.6,176.8 982.0,178.6 983.4,180.4 984.8,182.1 986.2,183.7 987.6,184.9 989.0,186.1 990.4,187.5 991.8,188.9 993.2,190.3 994.6,191.5 996.0,192.1 997.4,192.2 998.8,192.0 1000.2,191.6 1001.6,191.3 1003.0,191.1 1004.4,190.3 1005.8,189.1 1007.2,188.0 1008.6,187.5 1010.0,187.3 1011.4,187.2 1012.8,187.4 1014.2,187.2 1015.6,186.9 1017.0,186.6 1018.4,186.1 1019.8,185.3 1021.2,184.2 1022.6,183.1 1024.0,182.2 1025.4,181.4 1026.8,180.3 1028.2,178.8 1029.6,177.5 1031.0,176.2 1032.4,174.9 1033.8,173.6 1035.2,172.3 1036.6,170.9 1038.0,169.3 1039.4,167.8 1040.8,166.5 1042.2,165.2 1043.6,164.2 1045.0,163.3 1046.4,162.4 1047.8,161.7 1049.2,161.1 1050.6,160.8 1052.0,160.8 1053.4,161.2 1054.8,161.8 1056.2,162.5 1057.6,162.9 1059.0,163.2 1060.4,163.8 1061.8,164.5 1063.2,165.3 1064.6,166.1 1066.0,166.9 1067.4,167.9 1068.8,168.9 1070.2,169.9 1071.6,171.2 1073.0,172.9 1074.4,174.7 1075.8,176.5 1077.2,178.3 1078.6,180.3 1080.0,182.2 1081.4,184.0 1082.8,185.9 1084.2,188.1 1085.6,190.3 1087.0,192.4 1088.4,194.8 1089.8,197.5 1091.2,200.1 1092.6,202.8 1094.0,205.6 1095.4,208.4 1096.8,211.1 1098.2,214.0 1099.6,217.0 1101.0,219.9 1102.4,222.6 1103.8,225.1 1105.2,227.8 1106.6,230.3 1108.0,232.6 1109.4,234.9 1110.8,237.1 1112.2,239.5 1113.6,241.8 1115.0,244.2 1116.4,246.4 1117.8,248.6 1119.2,251.1 1120.6,253.6 1122.0,256.0 1123.4,258.1 1124.8,260.2 1126.2,262.3 1127.6,264.3 1129.0,266.2 1130.4,268.0 1131.8,270.0 1133.2,272.1 1134.6,273.9 1136.0,275.5 1137.4,277.1 1138.8,278.8 1140.2,280.3 1141.6,281.7 1143.0,283.0 1144.4,284.4 1145.8,285.9 1147.2,287.4 1148.6,288.9 1150.0,290.2 1151.4,291.3 1152.8,292.4 1154.2,293.4 1155.6,294.4 1157.0,295.5 1158.4,296.7 1159.8,297.8 1161.2,298.8 1162.6,299.8 1164.0,300.8 1165.4,301.8 1166.8,303.0 1168.2,303.9 1169.6,304.6 1171.0,305.3 1172.4,306.0 1173.8,306.8 1175.2,307.8 1176.6,308.9 1178.0,309.7 1179.4,310.2 1180.8,310.6 1182.2,311.1 1183.6,311.6 1185.0,312.4 1186.4,313.3 1187.8,313.8 1189.2,314.0 1190.6,314.5 1192.0,315.2 1193.4,315.8 1194.8,316.2 1196.2,316.6 1197.6,317.0 1199.0,317.4 1200.4,317.9 1201.8,318.3 1203.2,318.6 1204.6,319.0 1206.0,319.4 1207.4,319.9 1208.8,320.3 1210.2,320.7 1211.6,321.0 1213.0,321.2 1214.4,321.2 1215.8,321.4 1217.2,321.9 1218.6,322.6 1220.0,323.0 1221.4,322.9 1222.8,323.1 1224.2,323.5 1225.6,323.8 1227.0,324.0 1228.4,324.2 1229.8,324.5 1231.2,325.0 1232.6,325.6 1234.0,326.0 1235.4,326.1 1236.8,326.3 1238.2,326.7 1239.6,327.1 1241.0,327.3 1242.4,327.4 1243.8,327.8 1245.2,328.0 1246.6,328.1 1248.0,328.3 1249.4,328.7 1250.8,329.1 1252.2,329.4 1253.6,329.5 1255.0,329.5 1256.4,329.7 1257.8,329.8 1259.2,330.0 1260.6,330.3 1262.0,330.7 1263.4,330.9 1264.5,331.1" fill="none" stroke="#000000" stroke-width="2.5" stroke-linejoin="round" stroke-linecap="round"/>
</g>
<g fill="none" stroke="#000" stroke-width="2.0">
<rect x="89.9" y="26.0" width="572.6" height="760.6"/>
<rect x="696.8" y="26.0" width="573.0" height="760.6"/>
<line x1="156.6" y1="0" x2="156.6" y2="26.0"/>
<line x1="156.6" y1="786.6" x2="156.6" y2="812"/>
<line x1="281.9" y1="0" x2="281.9" y2="26.0"/>
<line x1="281.9" y1="786.6" x2="281.9" y2="812"/>
<line x1="407.2" y1="0" x2="407.2" y2="26.0"/>
<line x1="407.2" y1="786.6" x2="407.2" y2="812"/>
<line x1="532.5" y1="0" x2="532.5" y2="26.0"/>
<line x1="532.5" y1="786.6" x2="532.5" y2="812"/>
<line x1="657.8" y1="0" x2="657.8" y2="26.0"/>
<line x1="657.8" y1="786.6" x2="657.8" y2="812"/>
<line x1="763.9" y1="0" x2="763.9" y2="26.0"/>
<line x1="763.9" y1="786.6" x2="763.9" y2="812"/>
<line x1="889.2" y1="0" x2="889.2" y2="26.0"/>
<line x1="889.2" y1="786.6" x2="889.2" y2="812"/>
<line x1="1014.5" y1="0" x2="1014.5" y2="26.0"/>
<line x1="1014.5" y1="786.6" x2="1014.5" y2="812"/>
<line x1="1139.8" y1="0" x2="1139.8" y2="26.0"/>
<line x1="1139.8" y1="786.6" x2="1139.8" y2="812"/>
<line x1="1265.1" y1="0" x2="1265.1" y2="26.0"/>
<line x1="1265.1" y1="786.6" x2="1265.1" y2="812"/>
</g>
<g class="txt">
<g font-size="34.9" text-anchor="middle">
<text transform="translate(157.0,857.2) scale(1.035,1)" x="0" y="0">0.0</text>
<text transform="translate(282.3,857.2) scale(1.035,1)" x="0" y="0">0.2</text>
<text transform="translate(407.6,857.2) scale(1.035,1)" x="0" y="0">0.4</text>
<text transform="translate(532.9,857.2) scale(1.035,1)" x="0" y="0">0.6</text>
<text transform="translate(658.2,857.2) scale(1.035,1)" x="0" y="0">0.8</text>
<text transform="translate(764.3,857.2) scale(1.035,1)" x="0" y="0">0.0</text>
<text transform="translate(889.6,857.2) scale(1.035,1)" x="0" y="0">0.2</text>
<text transform="translate(1014.9,857.2) scale(1.035,1)" x="0" y="0">0.4</text>
<text transform="translate(1140.2,857.2) scale(1.035,1)" x="0" y="0">0.6</text>
<text transform="translate(1265.5,857.2) scale(1.035,1)" x="0" y="0">0.8</text>
</g>
<path transform="translate(1207.74,311.90) scale(0.01547,-0.01562)" d="M763 0 H583 V1147 Q518 1085 412.5 1023 Q307 961 223 930 V1104 Q374 1175 487 1276 Q600 1377 647 1472 H763 Z" fill="#000"/><text transform="translate(1225.36,311.9) scale(0.99,1)" font-size="32">0</text><text transform="translate(1242.97,311.9) scale(0.99,1)" font-size="32">K</text>
<text transform="translate(1207.74,381.8) scale(0.99,1)" font-size="32">5</text><text transform="translate(1225.36,381.8) scale(0.99,1)" font-size="32">0</text><text transform="translate(1242.97,381.8) scale(0.99,1)" font-size="32">K</text>
<text transform="translate(1209.34,475.8) scale(0.99,1)" font-size="32">9</text><text transform="translate(1226.96,475.8) scale(0.99,1)" font-size="32">0</text><text transform="translate(1244.57,475.8) scale(0.99,1)" font-size="32">K</text>
<path transform="translate(1191.53,536.40) scale(0.01547,-0.01562)" d="M763 0 H583 V1147 Q518 1085 412.5 1023 Q307 961 223 930 V1104 Q374 1175 487 1276 Q600 1377 647 1472 H763 Z" fill="#000"/><text transform="translate(1209.14,536.4) scale(0.99,1)" font-size="32">2</text><text transform="translate(1226.76,536.4) scale(0.99,1)" font-size="32">0</text><text transform="translate(1244.37,536.4) scale(0.99,1)" font-size="32">K</text>
<path transform="translate(1191.53,592.10) scale(0.01547,-0.01562)" d="M763 0 H583 V1147 Q518 1085 412.5 1023 Q307 961 223 930 V1104 Q374 1175 487 1276 Q600 1377 647 1472 H763 Z" fill="#000"/><text transform="translate(1209.14,592.1) scale(0.99,1)" font-size="32">3</text><path transform="translate(1226.76,592.10) scale(0.01547,-0.01562)" d="M763 0 H583 V1147 Q518 1085 412.5 1023 Q307 961 223 930 V1104 Q374 1175 487 1276 Q600 1377 647 1472 H763 Z" fill="#000"/><text transform="translate(1244.37,592.1) scale(0.99,1)" font-size="32">K</text>
<path transform="translate(1193.53,648.10) scale(0.01547,-0.01562)" d="M763 0 H583 V1147 Q518 1085 412.5 1023 Q307 961 223 930 V1104 Q374 1175 487 1276 Q600 1377 647 1472 H763 Z" fill="#000"/><text transform="translate(1211.14,648.1) scale(0.99,1)" font-size="32">4</text><text transform="translate(1228.76,648.1) scale(0.99,1)" font-size="32">0</text><text transform="translate(1246.37,648.1) scale(0.99,1)" font-size="32">K</text>
<path transform="translate(1193.53,705.60) scale(0.01547,-0.01562)" d="M763 0 H583 V1147 Q518 1085 412.5 1023 Q307 961 223 930 V1104 Q374 1175 487 1276 Q600 1377 647 1472 H763 Z" fill="#000"/><text transform="translate(1211.14,705.6) scale(0.99,1)" font-size="32">7</text><text transform="translate(1228.76,705.6) scale(0.99,1)" font-size="32">0</text><text transform="translate(1246.37,705.6) scale(0.99,1)" font-size="32">K</text>
<text transform="translate(1193.53,759.8) scale(0.99,1)" font-size="32">2</text><text transform="translate(1211.14,759.8) scale(0.99,1)" font-size="32">2</text><text transform="translate(1228.76,759.8) scale(0.99,1)" font-size="32">0</text><text transform="translate(1246.37,759.8) scale(0.99,1)" font-size="32">K</text>
<text transform="translate(99.4,86.3) scale(1.04,1)" font-size="54.4">(a)</text>
<text transform="translate(704.2,84.9) scale(1.04,1)" font-size="54.4">(b)</text>
<text transform="translate(40.1,403.3) rotate(-90)" font-size="54.1" text-anchor="middle">Intensity (Arb. Units)</text>
<text transform="translate(274.5,917.1) scale(1.025,1)" font-size="53.6">k<tspan class="serif" font-size="36" dy="14.6">ΓM</tspan><tspan dy="-14.6"> (</tspan><tspan dx="-1.2">Å</tspan><tspan font-size="37.8" dy="-15.9" dx="-1.2">-</tspan><tspan font-size="37.8" dx="1.2" visibility="hidden">1</tspan><tspan dy="15.9" dx="-0.8">)</tspan></text><path transform="translate(435.49,902.00) scale(0.01822,-0.01777)" d="M763 0 H583 V1147 Q518 1085 412.5 1023 Q307 961 223 930 V1104 Q374 1175 487 1276 Q600 1377 647 1472 H763 Z" fill="#000"/>
<text transform="translate(896,917.1) scale(1.025,1)" font-size="53.6">k<tspan class="serif" font-size="36" dy="14.6">ΓK</tspan><tspan dy="-14.6"> (</tspan><tspan dx="-1.2">Å</tspan><tspan font-size="37.8" dy="-15.9" dx="-1.2">-</tspan><tspan font-size="37.8" dx="1.2" visibility="hidden">1</tspan><tspan dy="15.9" dx="-0.8">)</tspan></text><path transform="translate(1050.83,902.00) scale(0.01822,-0.01777)" d="M763 0 H583 V1147 Q518 1085 412.5 1023 Q307 961 223 930 V1104 Q374 1175 487 1276 Q600 1377 647 1472 H763 Z" fill="#000"/>
<path transform="translate(236,108) scale(0.032227)" d="M722,150 L852,150 L745,540 C760,640 800,670 830,660 C870,650 890,620 900,585 L925,595 C915,690 880,745 825,745 C760,745 715,690 690,600 C640,700 560,748 460,748 C300,748 180,620 180,440 C180,250 300,120 460,120 C570,120 650,190 685,300 Z M470,158 C370,158 310,270 310,430 C310,600 380,705 480,705 C580,705 650,600 655,440 C655,280 570,158 470,158 Z" fill="#000" fill-rule="evenodd"/>
<path transform="translate(848.16,36) scale(0.032227)" d="M722,150 L852,150 L745,540 C760,640 800,670 830,660 C870,650 890,620 900,585 L925,595 C915,690 880,745 825,745 C760,745 715,690 690,600 C640,700 560,748 460,748 C300,748 180,620 180,440 C180,250 300,120 460,120 C570,120 650,190 685,300 Z M470,158 C370,158 310,270 310,430 C310,600 380,705 480,705 C580,705 650,600 655,440 C655,280 570,158 470,158 Z" fill="#000" fill-rule="evenodd"/>
<text class="serif" transform="translate(316.5,147.4) scale(1.1,1)" x="0" y="0" font-size="40.5">β</text><text class="serif" transform="translate(338.4,153.0) scale(1.1,1)" x="0" y="0" font-size="30">1</text>
<text class="serif" transform="translate(444.3,89.4) scale(1.1,1)" x="0" y="0" font-size="40.5">β</text><text class="serif" transform="translate(466.2,95.0) scale(1.1,1)" x="0" y="0" font-size="30">2</text>
<text class="serif" transform="translate(922,117.4) scale(1.1,1)" x="0" y="0" font-size="40.5">β</text><text class="serif" transform="translate(943.9,123.0) scale(1.1,1)" x="0" y="0" font-size="30">1</text>
<text class="serif" transform="translate(1039.3,143.4) scale(1.1,1)" x="0" y="0" font-size="40.5">β</text><text class="serif" transform="translate(1061.2,149.0) scale(1.1,1)" x="0" y="0" font-size="30">2</text>
</g>
</svg></body></html>
